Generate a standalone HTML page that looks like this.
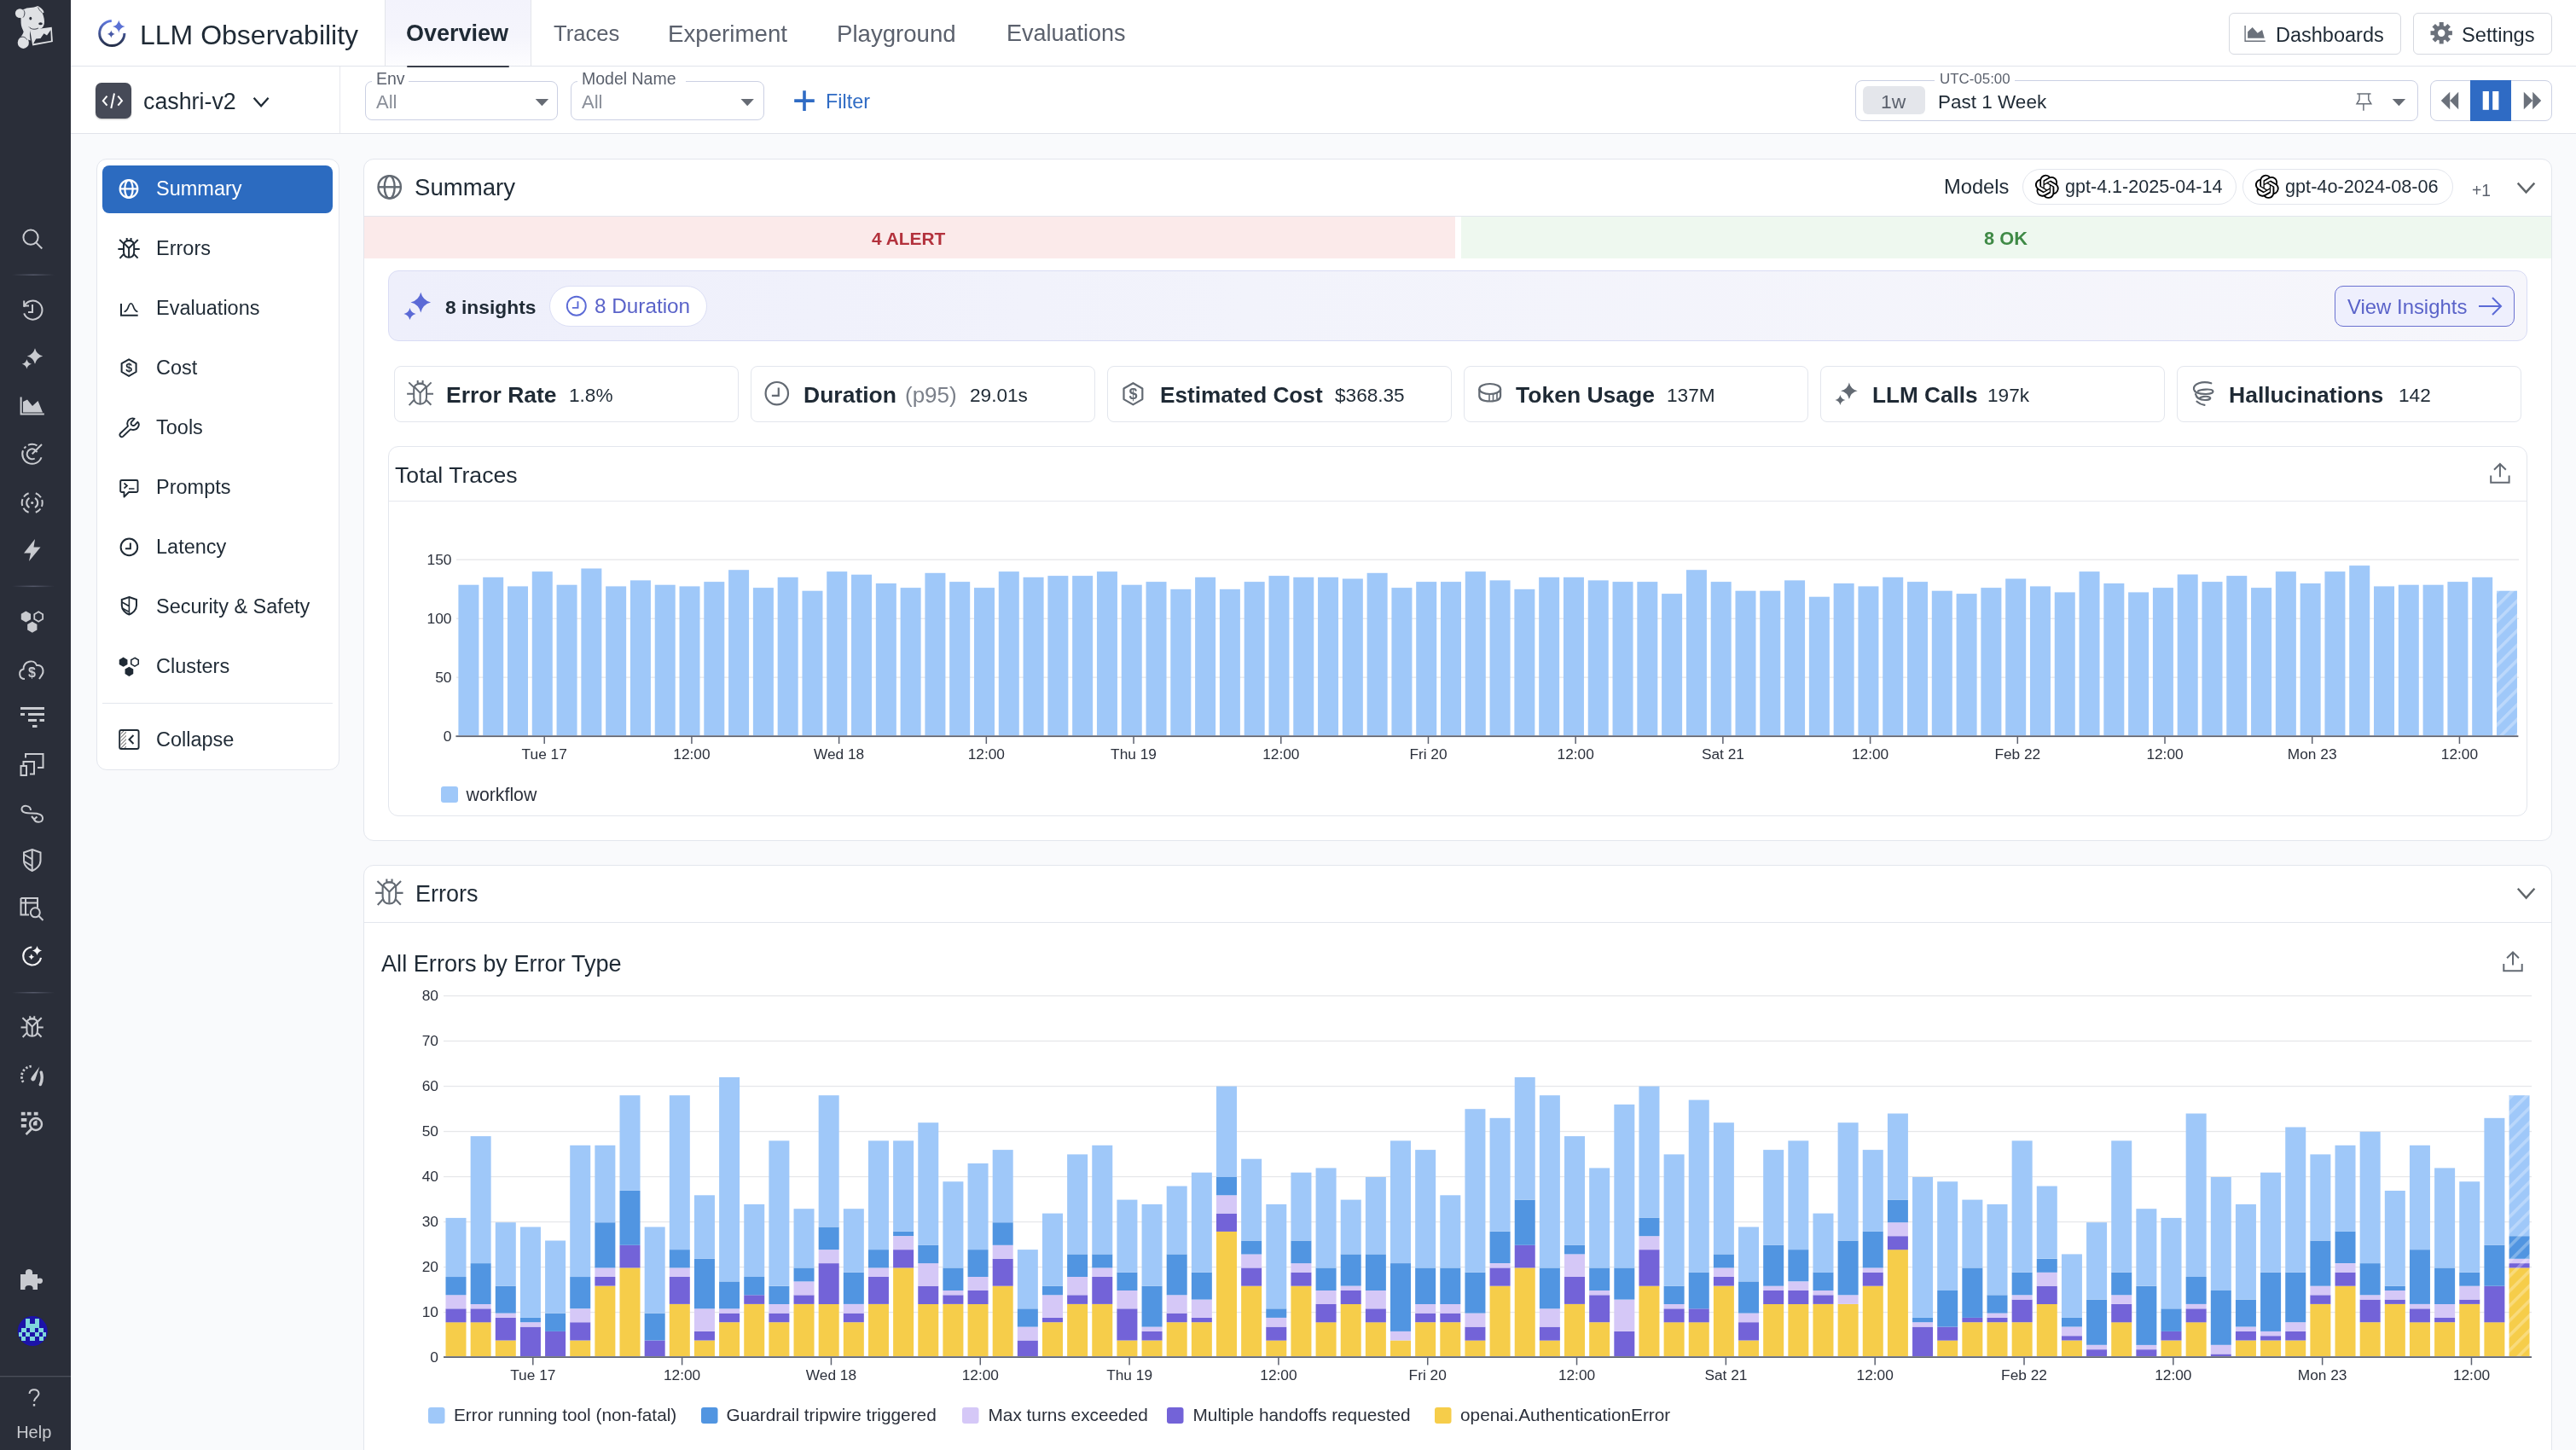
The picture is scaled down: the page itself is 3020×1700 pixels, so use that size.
<!DOCTYPE html><html><head><meta charset="utf-8"><style>
html,body{margin:0;padding:0;}
body{width:3020px;height:1700px;overflow:hidden;background:#f9fafc;font-family:"Liberation Sans", sans-serif;position:relative;}
.t{position:absolute;white-space:nowrap;line-height:1;will-change:transform;}
.b{position:absolute;box-sizing:border-box;}
svg{position:absolute;overflow:visible;will-change:transform;}
</style></head><body>
<div class="b" style="left:83px;top:0px;width:2937px;height:78px;background:#fff;border-bottom:1px solid #e1e4ea;"></div>
<div class="b" style="left:83px;top:78px;width:2937px;height:79px;background:#fff;border-bottom:1px solid #e1e4ea;"></div>
<div class="b" style="left:398px;top:78px;width:1px;height:78px;background:#e6e8ee;"></div>
<div class="b" style="left:451px;top:0px;width:172px;height:77px;background:linear-gradient(180deg,#f3f3fc 0%,#f5f5fc 55%,#fdfdff 100%);border-left:1px solid #e3e5ea;border-right:1px solid #e3e5ea;"></div>
<div class="b" style="left:477px;top:76.5px;width:120px;height:2.5px;background:#3a3e4b;border-radius:1px;"></div>
<div class="t" style="left:164.0px;top:25.4px;font-size:32px;font-weight:400;color:#1f2a35;">LLM Observability</div>
<div class="t" style="left:475.5px;top:26.2px;font-size:27px;font-weight:700;color:#1f2a35;">Overview</div>
<div class="t" style="left:648.5px;top:27.4px;font-size:25.6px;font-weight:400;color:#5b616d;">Traces</div>
<div class="t" style="left:782.5px;top:25.7px;font-size:27.7px;font-weight:400;color:#5b616d;">Experiment</div>
<div class="t" style="left:981.0px;top:25.7px;font-size:27.6px;font-weight:400;color:#5b616d;">Playground</div>
<div class="t" style="left:1180.0px;top:26.2px;font-size:27px;font-weight:400;color:#5b616d;">Evaluations</div>
<div class="b" style="left:2613px;top:15px;width:202px;height:49px;background:#fff;border:1px solid #d6d9e0;border-radius:6px;"></div>
<div class="b" style="left:2829px;top:15px;width:163px;height:49px;background:#fff;border:1px solid #d6d9e0;border-radius:6px;"></div>
<div class="t" style="left:2668.0px;top:30.1px;font-size:23.5px;font-weight:400;color:#1f2a35;">Dashboards</div>
<div class="t" style="left:2886.0px;top:29.9px;font-size:23.7px;font-weight:400;color:#1f2a35;">Settings</div>
<div class="b" style="left:112px;top:97px;width:42px;height:42px;background:#464a57;border-radius:7px;box-shadow:0 1px 2px rgba(0,0,0,.25);"></div>
<div class="t" style="left:167.5px;top:105.6px;font-size:26.8px;font-weight:400;color:#1f2a35;">cashri-v2</div>
<div class="b" style="left:428px;top:95px;width:226px;height:46px;border:1px solid #cbd0e3;border-radius:8px;background:#fff;"></div>
<div class="b" style="left:436px;top:85px;width:43px;height:15px;background:#fff;"></div>
<div class="t" style="left:441.0px;top:82.5px;font-size:19.5px;font-weight:400;color:#5b616d;">Env</div>
<div class="t" style="left:441.0px;top:109.2px;font-size:22px;font-weight:400;color:#8a8f99;">All</div>
<div class="b" style="left:669px;top:95px;width:227px;height:46px;border:1px solid #cbd0e3;border-radius:8px;background:#fff;"></div>
<div class="b" style="left:677px;top:85px;width:127px;height:15px;background:#fff;"></div>
<div class="t" style="left:682.0px;top:82.5px;font-size:19.5px;font-weight:400;color:#5b616d;">Model Name</div>
<div class="t" style="left:682.0px;top:109.2px;font-size:22px;font-weight:400;color:#8a8f99;">All</div>
<div class="t" style="left:968.0px;top:107.8px;font-size:23.4px;font-weight:400;color:#2f6bc4;">Filter</div>
<div class="b" style="left:2175px;top:94px;width:660px;height:48px;border:1px solid #cbd0e3;border-radius:8px;background:#fff;"></div>
<div class="b" style="left:2268px;top:85px;width:94px;height:15px;background:#fff;"></div>
<div class="t" style="left:2274.0px;top:84.7px;font-size:16.9px;font-weight:400;color:#5b616d;">UTC-05:00</div>
<div class="b" style="left:2184px;top:101px;width:73px;height:33px;background:#e4e6eb;border-radius:6px;"></div>
<div class="t" style="left:2204.5px;top:107.9px;font-size:22.9px;font-weight:400;color:#5b616d;">1w</div>
<div class="t" style="left:2271.5px;top:109.0px;font-size:22.5px;font-weight:400;color:#1f2a35;">Past 1 Week</div>
<div class="b" style="left:2849px;top:94px;width:143px;height:48px;border:1px solid #cbd0e3;border-radius:8px;background:#fff;"></div>
<div class="b" style="left:2896px;top:94px;width:48px;height:48px;background:#2f6bc4;"></div>
<div class="b" style="left:0px;top:0px;width:83px;height:1700px;background:#2a2e39;"></div>
<div class="b" style="left:113px;top:186px;width:285px;height:717px;background:#fff;border:1px solid #e3e6ed;border-radius:12px;"></div>
<div class="b" style="left:120px;top:194px;width:270px;height:56px;background:#2c6bc0;border-radius:8px;"></div>
<div class="t" style="left:182.5px;top:210.4px;font-size:23.5px;font-weight:400;color:#fff;">Summary</div>
<div class="t" style="left:182.5px;top:280.4px;font-size:23.5px;font-weight:400;color:#1f2a35;">Errors</div>
<div class="t" style="left:182.5px;top:350.4px;font-size:23.5px;font-weight:400;color:#1f2a35;">Evaluations</div>
<div class="t" style="left:182.5px;top:420.4px;font-size:23.5px;font-weight:400;color:#1f2a35;">Cost</div>
<div class="t" style="left:182.5px;top:490.4px;font-size:23.5px;font-weight:400;color:#1f2a35;">Tools</div>
<div class="t" style="left:182.5px;top:560.4px;font-size:23.5px;font-weight:400;color:#1f2a35;">Prompts</div>
<div class="t" style="left:182.5px;top:630.4px;font-size:23.5px;font-weight:400;color:#1f2a35;">Latency</div>
<div class="t" style="left:182.5px;top:700.4px;font-size:23.5px;font-weight:400;color:#1f2a35;">Security &amp; Safety</div>
<div class="t" style="left:182.5px;top:770.4px;font-size:23.5px;font-weight:400;color:#1f2a35;">Clusters</div>
<div class="b" style="left:120px;top:824px;width:270px;height:1px;background:#e3e6ed;"></div>
<div class="t" style="left:182.5px;top:856.4px;font-size:23.5px;font-weight:400;color:#1f2a35;">Collapse</div>
<div class="b" style="left:426px;top:186px;width:2566px;height:800px;background:#fff;border:1px solid #e3e6ed;border-radius:12px;"></div>
<div class="b" style="left:427px;top:253px;width:2564px;height:1px;background:#e3e6ed;"></div>
<div class="b" style="left:427px;top:254px;width:1279px;height:49px;background:#fbeaea;"></div>
<div class="b" style="left:1713px;top:254px;width:1278px;height:49px;background:#eef8ef;"></div>
<div class="t" style="left:486.0px;top:206.1px;font-size:27.6px;font-weight:400;color:#1f2a35;">Summary</div>
<div class="t" style="left:1022.0px;top:269.9px;font-size:20.9px;font-weight:700;color:#b3323d;">4 ALERT</div>
<div class="t" style="left:2325.5px;top:269.1px;font-size:21.8px;font-weight:700;color:#3f8a46;">8 OK</div>
<div class="t" style="left:2279.0px;top:207.6px;font-size:23.7px;font-weight:400;color:#1f2a35;">Models</div>
<div class="b" style="left:2371px;top:198px;width:251px;height:42px;border:1px solid #e3e6ed;border-radius:21px;background:#fff;"></div>
<div class="t" style="left:2421.0px;top:208.2px;font-size:21.56px;font-weight:400;color:#1f2a35;">gpt-4.1-2025-04-14</div>
<div class="b" style="left:2629px;top:198px;width:247px;height:42px;border:1px solid #e3e6ed;border-radius:21px;background:#fff;"></div>
<div class="t" style="left:2679.0px;top:208.1px;font-size:21.7px;font-weight:400;color:#1f2a35;">gpt-4o-2024-08-06</div>
<div class="t" style="left:2898.0px;top:214.2px;font-size:19.3px;font-weight:400;color:#5b616d;">+1</div>
<div class="b" style="left:455px;top:317px;width:2508px;height:83px;background:linear-gradient(90deg,#eeeffb 0%,#f2f3fb 40%,#f6f6fb 100%);border:1px solid #d9dcf5;border-radius:12px;"></div>
<div class="t" style="left:521.5px;top:348.6px;font-size:22.8px;font-weight:700;color:#1f2a35;">8 insights</div>
<div class="b" style="left:644px;top:335px;width:185px;height:48px;background:#fff;border:1px solid #dcdff5;border-radius:24px;"></div>
<div class="t" style="left:696.5px;top:347.3px;font-size:24.3px;font-weight:400;color:#5a63c9;">8 Duration</div>
<div class="b" style="left:2737px;top:335px;width:211px;height:48px;background:#eeeffd;border:1.5px solid #6a71d0;border-radius:10px;"></div>
<div class="t" style="left:2751.5px;top:347.7px;font-size:23.9px;font-weight:400;color:#5a63c9;">View Insights</div>
<div class="b" style="left:462px;top:429px;width:404px;height:66px;background:#fff;border:1px solid #e3e6ed;border-radius:8px;"></div>
<div class="t" style="left:523.0px;top:449.6px;font-size:26.5px;font-weight:700;color:#1f2a35;">Error Rate</div>
<div class="t" style="left:666.5px;top:452.9px;font-size:22.6px;font-weight:400;color:#1f2a35;">1.8%</div>
<div class="b" style="left:880px;top:429px;width:404px;height:66px;background:#fff;border:1px solid #e3e6ed;border-radius:8px;"></div>
<div class="t" style="left:941.5px;top:449.6px;font-size:26.5px;font-weight:700;color:#1f2a35;">Duration</div>
<div class="t" style="left:1061.0px;top:450.0px;font-size:26px;font-weight:400;color:#7b808a;">(p95)</div>
<div class="t" style="left:1137.0px;top:452.9px;font-size:22.6px;font-weight:400;color:#1f2a35;">29.01s</div>
<div class="b" style="left:1298px;top:429px;width:404px;height:66px;background:#fff;border:1px solid #e3e6ed;border-radius:8px;"></div>
<div class="t" style="left:1359.5px;top:449.8px;font-size:26.2px;font-weight:700;color:#1f2a35;">Estimated Cost</div>
<div class="t" style="left:1564.5px;top:452.9px;font-size:22.6px;font-weight:400;color:#1f2a35;">$368.35</div>
<div class="b" style="left:1716px;top:429px;width:404px;height:66px;background:#fff;border:1px solid #e3e6ed;border-radius:8px;"></div>
<div class="t" style="left:1776.5px;top:449.6px;font-size:26.5px;font-weight:700;color:#1f2a35;">Token Usage</div>
<div class="t" style="left:1954.0px;top:452.9px;font-size:22.6px;font-weight:400;color:#1f2a35;">137M</div>
<div class="b" style="left:2134px;top:429px;width:404px;height:66px;background:#fff;border:1px solid #e3e6ed;border-radius:8px;"></div>
<div class="t" style="left:2195.0px;top:449.8px;font-size:26.2px;font-weight:700;color:#1f2a35;">LLM Calls</div>
<div class="t" style="left:2329.5px;top:452.9px;font-size:22.6px;font-weight:400;color:#1f2a35;">197k</div>
<div class="b" style="left:2552px;top:429px;width:404px;height:66px;background:#fff;border:1px solid #e3e6ed;border-radius:8px;"></div>
<div class="t" style="left:2613.0px;top:449.6px;font-size:26.5px;font-weight:700;color:#1f2a35;">Hallucinations</div>
<div class="t" style="left:2811.5px;top:452.9px;font-size:22.6px;font-weight:400;color:#1f2a35;">142</div>
<div class="b" style="left:455px;top:523px;width:2508px;height:434px;background:#fff;border:1px solid #e3e6ed;border-radius:12px;"></div>
<div class="b" style="left:456px;top:587px;width:2506px;height:1px;background:#e6e8ee;"></div>
<div class="t" style="left:462.5px;top:543.9px;font-size:26.65px;font-weight:400;color:#1f2a35;">Total Traces</div>
<div class="b" style="left:426px;top:1014px;width:2566px;height:746px;background:#fff;border:1px solid #e3e6ed;border-radius:12px;"></div>
<div class="b" style="left:427px;top:1081px;width:2564px;height:1px;background:#e3e6ed;"></div>
<div class="t" style="left:487.0px;top:1035.1px;font-size:27px;font-weight:400;color:#1f2a35;">Errors</div>
<div class="t" style="left:447.0px;top:1116.4px;font-size:27.16px;font-weight:400;color:#1f2a35;">All Errors by Error Type</div>
<svg width="3020" height="1700" style="left:0;top:0;font-family:"Liberation Sans", sans-serif"><defs><pattern id="hatch" patternUnits="userSpaceOnUse" width="12.3" height="12.3" patternTransform="rotate(45)"><rect width="12.3" height="12.3" fill="#9fc8f9"/><rect width="3.6" height="12.3" fill="#bcd8fb"/></pattern><pattern id="h0" patternUnits="userSpaceOnUse" width="12.3" height="12.3" patternTransform="rotate(45)"><rect width="12.3" height="12.3" fill="#f6cd4a"/><rect width="3.6" height="12.3" fill="#ffffff" fill-opacity="0.28"/></pattern><pattern id="h1" patternUnits="userSpaceOnUse" width="12.3" height="12.3" patternTransform="rotate(45)"><rect width="12.3" height="12.3" fill="#7363d8"/><rect width="3.6" height="12.3" fill="#ffffff" fill-opacity="0.28"/></pattern><pattern id="h2" patternUnits="userSpaceOnUse" width="12.3" height="12.3" patternTransform="rotate(45)"><rect width="12.3" height="12.3" fill="#d5c8f7"/><rect width="3.6" height="12.3" fill="#ffffff" fill-opacity="0.28"/></pattern><pattern id="h3" patternUnits="userSpaceOnUse" width="12.3" height="12.3" patternTransform="rotate(45)"><rect width="12.3" height="12.3" fill="#5195e1"/><rect width="3.6" height="12.3" fill="#ffffff" fill-opacity="0.28"/></pattern><pattern id="h4" patternUnits="userSpaceOnUse" width="12.3" height="12.3" patternTransform="rotate(45)"><rect width="12.3" height="12.3" fill="#9fc8f9"/><rect width="3.6" height="12.3" fill="#ffffff" fill-opacity="0.28"/></pattern></defs><text x="529.5" y="869.0" text-anchor="end" font-size="17.4" fill="#2b303b">0</text><rect x="535" y="793.5" width="2418" height="1.3" fill="#e6e7ea"/><text x="529.5" y="800.0" text-anchor="end" font-size="17.4" fill="#2b303b">50</text><rect x="535" y="724.6" width="2418" height="1.3" fill="#e6e7ea"/><text x="529.5" y="731.1" text-anchor="end" font-size="17.4" fill="#2b303b">100</text><rect x="535" y="655.5" width="2418" height="1.3" fill="#e6e7ea"/><text x="529.5" y="662.0" text-anchor="end" font-size="17.4" fill="#2b303b">150</text><rect x="537.40" y="685.7" width="24" height="176.5" fill="#9fc8f9"/><rect x="566.19" y="676.8" width="24" height="185.4" fill="#9fc8f9"/><rect x="594.98" y="687.4" width="24" height="174.8" fill="#9fc8f9"/><rect x="623.77" y="670.1" width="24" height="192.1" fill="#9fc8f9"/><rect x="652.56" y="685.7" width="24" height="176.5" fill="#9fc8f9"/><rect x="681.35" y="666.5" width="24" height="195.7" fill="#9fc8f9"/><rect x="710.14" y="687.4" width="24" height="174.8" fill="#9fc8f9"/><rect x="738.93" y="680.4" width="24" height="181.8" fill="#9fc8f9"/><rect x="767.72" y="685.7" width="24" height="176.5" fill="#9fc8f9"/><rect x="796.51" y="687.4" width="24" height="174.8" fill="#9fc8f9"/><rect x="825.30" y="682.1" width="24" height="180.1" fill="#9fc8f9"/><rect x="854.09" y="668.2" width="24" height="194.0" fill="#9fc8f9"/><rect x="882.88" y="689.1" width="24" height="173.1" fill="#9fc8f9"/><rect x="911.67" y="676.8" width="24" height="185.4" fill="#9fc8f9"/><rect x="940.46" y="692.7" width="24" height="169.5" fill="#9fc8f9"/><rect x="969.25" y="670.1" width="24" height="192.1" fill="#9fc8f9"/><rect x="998.04" y="673.7" width="24" height="188.5" fill="#9fc8f9"/><rect x="1026.83" y="684.0" width="24" height="178.2" fill="#9fc8f9"/><rect x="1055.62" y="689.1" width="24" height="173.1" fill="#9fc8f9"/><rect x="1084.41" y="671.8" width="24" height="190.4" fill="#9fc8f9"/><rect x="1113.20" y="682.1" width="24" height="180.1" fill="#9fc8f9"/><rect x="1141.99" y="689.1" width="24" height="173.1" fill="#9fc8f9"/><rect x="1170.78" y="670.1" width="24" height="192.1" fill="#9fc8f9"/><rect x="1199.57" y="676.8" width="24" height="185.4" fill="#9fc8f9"/><rect x="1228.36" y="675.1" width="24" height="187.1" fill="#9fc8f9"/><rect x="1257.15" y="675.1" width="24" height="187.1" fill="#9fc8f9"/><rect x="1285.94" y="670.1" width="24" height="192.1" fill="#9fc8f9"/><rect x="1314.73" y="685.7" width="24" height="176.5" fill="#9fc8f9"/><rect x="1343.52" y="682.1" width="24" height="180.1" fill="#9fc8f9"/><rect x="1372.31" y="690.8" width="24" height="171.4" fill="#9fc8f9"/><rect x="1401.10" y="676.8" width="24" height="185.4" fill="#9fc8f9"/><rect x="1429.89" y="690.8" width="24" height="171.4" fill="#9fc8f9"/><rect x="1458.68" y="682.1" width="24" height="180.1" fill="#9fc8f9"/><rect x="1487.47" y="675.1" width="24" height="187.1" fill="#9fc8f9"/><rect x="1516.26" y="676.8" width="24" height="185.4" fill="#9fc8f9"/><rect x="1545.05" y="676.8" width="24" height="185.4" fill="#9fc8f9"/><rect x="1573.84" y="678.5" width="24" height="183.7" fill="#9fc8f9"/><rect x="1602.63" y="671.8" width="24" height="190.4" fill="#9fc8f9"/><rect x="1631.42" y="689.1" width="24" height="173.1" fill="#9fc8f9"/><rect x="1660.21" y="682.1" width="24" height="180.1" fill="#9fc8f9"/><rect x="1689.00" y="682.1" width="24" height="180.1" fill="#9fc8f9"/><rect x="1717.79" y="670.1" width="24" height="192.1" fill="#9fc8f9"/><rect x="1746.58" y="680.4" width="24" height="181.8" fill="#9fc8f9"/><rect x="1775.37" y="690.8" width="24" height="171.4" fill="#9fc8f9"/><rect x="1804.16" y="676.8" width="24" height="185.4" fill="#9fc8f9"/><rect x="1832.95" y="676.8" width="24" height="185.4" fill="#9fc8f9"/><rect x="1861.74" y="680.4" width="24" height="181.8" fill="#9fc8f9"/><rect x="1890.53" y="682.1" width="24" height="180.1" fill="#9fc8f9"/><rect x="1919.32" y="682.1" width="24" height="180.1" fill="#9fc8f9"/><rect x="1948.11" y="696.1" width="24" height="166.1" fill="#9fc8f9"/><rect x="1976.90" y="668.2" width="24" height="194.0" fill="#9fc8f9"/><rect x="2005.69" y="682.1" width="24" height="180.1" fill="#9fc8f9"/><rect x="2034.48" y="692.7" width="24" height="169.5" fill="#9fc8f9"/><rect x="2063.27" y="692.7" width="24" height="169.5" fill="#9fc8f9"/><rect x="2092.06" y="680.4" width="24" height="181.8" fill="#9fc8f9"/><rect x="2120.85" y="699.7" width="24" height="162.5" fill="#9fc8f9"/><rect x="2149.64" y="684.0" width="24" height="178.2" fill="#9fc8f9"/><rect x="2178.43" y="687.4" width="24" height="174.8" fill="#9fc8f9"/><rect x="2207.22" y="676.8" width="24" height="185.4" fill="#9fc8f9"/><rect x="2236.01" y="682.1" width="24" height="180.1" fill="#9fc8f9"/><rect x="2264.80" y="692.7" width="24" height="169.5" fill="#9fc8f9"/><rect x="2293.59" y="696.1" width="24" height="166.1" fill="#9fc8f9"/><rect x="2322.38" y="689.1" width="24" height="173.1" fill="#9fc8f9"/><rect x="2351.17" y="678.5" width="24" height="183.7" fill="#9fc8f9"/><rect x="2379.96" y="687.4" width="24" height="174.8" fill="#9fc8f9"/><rect x="2408.75" y="694.4" width="24" height="167.8" fill="#9fc8f9"/><rect x="2437.54" y="670.1" width="24" height="192.1" fill="#9fc8f9"/><rect x="2466.33" y="684.0" width="24" height="178.2" fill="#9fc8f9"/><rect x="2495.12" y="694.4" width="24" height="167.8" fill="#9fc8f9"/><rect x="2523.91" y="689.1" width="24" height="173.1" fill="#9fc8f9"/><rect x="2552.70" y="673.5" width="24" height="188.7" fill="#9fc8f9"/><rect x="2581.49" y="682.1" width="24" height="180.1" fill="#9fc8f9"/><rect x="2610.28" y="675.1" width="24" height="187.1" fill="#9fc8f9"/><rect x="2639.07" y="689.1" width="24" height="173.1" fill="#9fc8f9"/><rect x="2667.86" y="670.1" width="24" height="192.1" fill="#9fc8f9"/><rect x="2696.65" y="684.0" width="24" height="178.2" fill="#9fc8f9"/><rect x="2725.44" y="670.1" width="24" height="192.1" fill="#9fc8f9"/><rect x="2754.23" y="663.1" width="24" height="199.1" fill="#9fc8f9"/><rect x="2783.02" y="687.4" width="24" height="174.8" fill="#9fc8f9"/><rect x="2811.81" y="685.7" width="24" height="176.5" fill="#9fc8f9"/><rect x="2840.60" y="685.7" width="24" height="176.5" fill="#9fc8f9"/><rect x="2869.39" y="682.1" width="24" height="180.1" fill="#9fc8f9"/><rect x="2898.18" y="676.8" width="24" height="185.4" fill="#9fc8f9"/><rect x="2926.97" y="692.7" width="24" height="169.5" fill="url(#hatch)"/><rect x="534.4" y="862.3" width="2418" height="1.8" fill="#5d6270"/><rect x="637.45" y="863" width="1.5" height="9" fill="#5d6270"/><text x="638.2" y="890.3" text-anchor="middle" font-size="17.3" fill="#2b303b">Tue 17</text><rect x="810.16" y="863" width="1.5" height="9" fill="#5d6270"/><text x="810.9" y="890.3" text-anchor="middle" font-size="17.3" fill="#2b303b">12:00</text><rect x="982.87" y="863" width="1.5" height="9" fill="#5d6270"/><text x="983.6" y="890.3" text-anchor="middle" font-size="17.3" fill="#2b303b">Wed 18</text><rect x="1155.58" y="863" width="1.5" height="9" fill="#5d6270"/><text x="1156.3" y="890.3" text-anchor="middle" font-size="17.3" fill="#2b303b">12:00</text><rect x="1328.29" y="863" width="1.5" height="9" fill="#5d6270"/><text x="1329.0" y="890.3" text-anchor="middle" font-size="17.3" fill="#2b303b">Thu 19</text><rect x="1501.00" y="863" width="1.5" height="9" fill="#5d6270"/><text x="1501.8" y="890.3" text-anchor="middle" font-size="17.3" fill="#2b303b">12:00</text><rect x="1673.71" y="863" width="1.5" height="9" fill="#5d6270"/><text x="1674.5" y="890.3" text-anchor="middle" font-size="17.3" fill="#2b303b">Fri 20</text><rect x="1846.42" y="863" width="1.5" height="9" fill="#5d6270"/><text x="1847.2" y="890.3" text-anchor="middle" font-size="17.3" fill="#2b303b">12:00</text><rect x="2019.13" y="863" width="1.5" height="9" fill="#5d6270"/><text x="2019.9" y="890.3" text-anchor="middle" font-size="17.3" fill="#2b303b">Sat 21</text><rect x="2191.84" y="863" width="1.5" height="9" fill="#5d6270"/><text x="2192.6" y="890.3" text-anchor="middle" font-size="17.3" fill="#2b303b">12:00</text><rect x="2364.55" y="863" width="1.5" height="9" fill="#5d6270"/><text x="2365.3" y="890.3" text-anchor="middle" font-size="17.3" fill="#2b303b">Feb 22</text><rect x="2537.26" y="863" width="1.5" height="9" fill="#5d6270"/><text x="2538.0" y="890.3" text-anchor="middle" font-size="17.3" fill="#2b303b">12:00</text><rect x="2709.97" y="863" width="1.5" height="9" fill="#5d6270"/><text x="2710.7" y="890.3" text-anchor="middle" font-size="17.3" fill="#2b303b">Mon 23</text><rect x="2882.68" y="863" width="1.5" height="9" fill="#5d6270"/><text x="2883.4" y="890.3" text-anchor="middle" font-size="17.3" fill="#2b303b">12:00</text><rect x="517" y="922" width="20" height="19" rx="3" fill="#9fc8f9"/><text x="546.5" y="939" font-size="21.3" fill="#2b303b">workflow</text><text x="514" y="1597.4" text-anchor="end" font-size="17.4" fill="#2b303b">0</text><rect x="520" y="1537.9" width="2448" height="1.3" fill="#e6e7ea"/><text x="514" y="1544.4" text-anchor="end" font-size="17.4" fill="#2b303b">10</text><rect x="520" y="1484.9" width="2448" height="1.3" fill="#e6e7ea"/><text x="514" y="1491.4" text-anchor="end" font-size="17.4" fill="#2b303b">20</text><rect x="520" y="1431.9" width="2448" height="1.3" fill="#e6e7ea"/><text x="514" y="1438.4" text-anchor="end" font-size="17.4" fill="#2b303b">30</text><rect x="520" y="1378.9" width="2448" height="1.3" fill="#e6e7ea"/><text x="514" y="1385.4" text-anchor="end" font-size="17.4" fill="#2b303b">40</text><rect x="520" y="1325.9" width="2448" height="1.3" fill="#e6e7ea"/><text x="514" y="1332.4" text-anchor="end" font-size="17.4" fill="#2b303b">50</text><rect x="520" y="1272.9" width="2448" height="1.3" fill="#e6e7ea"/><text x="514" y="1279.4" text-anchor="end" font-size="17.4" fill="#2b303b">60</text><rect x="520" y="1219.9" width="2448" height="1.3" fill="#e6e7ea"/><text x="514" y="1226.4" text-anchor="end" font-size="17.4" fill="#2b303b">70</text><rect x="520" y="1166.9" width="2448" height="1.3" fill="#e6e7ea"/><text x="514" y="1173.4" text-anchor="end" font-size="17.4" fill="#2b303b">80</text><rect x="522.50" y="1550.2" width="24" height="39.8" fill="#f6cd4a"/><rect x="522.50" y="1534.3" width="24" height="16.0" fill="#7363d8"/><rect x="522.50" y="1518.3" width="24" height="16.0" fill="#d5c8f7"/><rect x="522.50" y="1497.0" width="24" height="21.3" fill="#5195e1"/><rect x="522.50" y="1427.9" width="24" height="69.2" fill="#9fc8f9"/><rect x="551.64" y="1550.2" width="24" height="39.8" fill="#f6cd4a"/><rect x="551.64" y="1534.3" width="24" height="16.0" fill="#7363d8"/><rect x="551.64" y="1529.0" width="24" height="5.3" fill="#d5c8f7"/><rect x="551.64" y="1481.1" width="24" height="47.9" fill="#5195e1"/><rect x="551.64" y="1332.1" width="24" height="149.0" fill="#9fc8f9"/><rect x="580.79" y="1571.5" width="24" height="18.5" fill="#f6cd4a"/><rect x="580.79" y="1544.9" width="24" height="26.6" fill="#7363d8"/><rect x="580.79" y="1539.6" width="24" height="5.3" fill="#d5c8f7"/><rect x="580.79" y="1507.7" width="24" height="31.9" fill="#5195e1"/><rect x="580.79" y="1433.2" width="24" height="74.5" fill="#9fc8f9"/><rect x="609.93" y="1555.6" width="24" height="34.4" fill="#7363d8"/><rect x="609.93" y="1550.2" width="24" height="5.3" fill="#d5c8f7"/><rect x="609.93" y="1544.9" width="24" height="5.3" fill="#5195e1"/><rect x="609.93" y="1438.5" width="24" height="106.4" fill="#9fc8f9"/><rect x="639.08" y="1560.9" width="24" height="29.1" fill="#7363d8"/><rect x="639.08" y="1539.6" width="24" height="21.3" fill="#5195e1"/><rect x="639.08" y="1454.5" width="24" height="85.1" fill="#9fc8f9"/><rect x="668.23" y="1571.5" width="24" height="18.5" fill="#f6cd4a"/><rect x="668.23" y="1550.2" width="24" height="21.3" fill="#7363d8"/><rect x="668.23" y="1534.3" width="24" height="16.0" fill="#d5c8f7"/><rect x="668.23" y="1497.0" width="24" height="37.2" fill="#5195e1"/><rect x="668.23" y="1342.8" width="24" height="154.3" fill="#9fc8f9"/><rect x="697.37" y="1507.7" width="24" height="82.3" fill="#f6cd4a"/><rect x="697.37" y="1497.0" width="24" height="10.6" fill="#7363d8"/><rect x="697.37" y="1486.4" width="24" height="10.6" fill="#d5c8f7"/><rect x="697.37" y="1433.2" width="24" height="53.2" fill="#5195e1"/><rect x="697.37" y="1342.8" width="24" height="90.4" fill="#9fc8f9"/><rect x="726.51" y="1486.4" width="24" height="103.6" fill="#f6cd4a"/><rect x="726.51" y="1459.8" width="24" height="26.6" fill="#7363d8"/><rect x="726.51" y="1396.0" width="24" height="63.8" fill="#5195e1"/><rect x="726.51" y="1284.2" width="24" height="111.7" fill="#9fc8f9"/><rect x="755.66" y="1571.5" width="24" height="18.5" fill="#7363d8"/><rect x="755.66" y="1539.6" width="24" height="31.9" fill="#5195e1"/><rect x="755.66" y="1438.5" width="24" height="101.1" fill="#9fc8f9"/><rect x="784.81" y="1529.0" width="24" height="61.0" fill="#f6cd4a"/><rect x="784.81" y="1497.0" width="24" height="31.9" fill="#7363d8"/><rect x="784.81" y="1486.4" width="24" height="10.6" fill="#d5c8f7"/><rect x="784.81" y="1465.1" width="24" height="21.3" fill="#5195e1"/><rect x="784.81" y="1284.2" width="24" height="180.9" fill="#9fc8f9"/><rect x="813.95" y="1571.5" width="24" height="18.5" fill="#f6cd4a"/><rect x="813.95" y="1560.9" width="24" height="10.6" fill="#7363d8"/><rect x="813.95" y="1534.3" width="24" height="26.6" fill="#d5c8f7"/><rect x="813.95" y="1475.8" width="24" height="58.5" fill="#5195e1"/><rect x="813.95" y="1401.3" width="24" height="74.5" fill="#9fc8f9"/><rect x="843.10" y="1550.2" width="24" height="39.8" fill="#f6cd4a"/><rect x="843.10" y="1539.6" width="24" height="10.6" fill="#7363d8"/><rect x="843.10" y="1534.3" width="24" height="5.3" fill="#d5c8f7"/><rect x="843.10" y="1502.4" width="24" height="31.9" fill="#5195e1"/><rect x="843.10" y="1263.0" width="24" height="239.4" fill="#9fc8f9"/><rect x="872.24" y="1529.0" width="24" height="61.0" fill="#f6cd4a"/><rect x="872.24" y="1518.3" width="24" height="10.6" fill="#7363d8"/><rect x="872.24" y="1497.0" width="24" height="21.3" fill="#5195e1"/><rect x="872.24" y="1411.9" width="24" height="85.1" fill="#9fc8f9"/><rect x="901.38" y="1550.2" width="24" height="39.8" fill="#f6cd4a"/><rect x="901.38" y="1539.6" width="24" height="10.6" fill="#7363d8"/><rect x="901.38" y="1529.0" width="24" height="10.6" fill="#d5c8f7"/><rect x="901.38" y="1507.7" width="24" height="21.3" fill="#5195e1"/><rect x="901.38" y="1337.4" width="24" height="170.2" fill="#9fc8f9"/><rect x="930.53" y="1529.0" width="24" height="61.0" fill="#f6cd4a"/><rect x="930.53" y="1518.3" width="24" height="10.6" fill="#7363d8"/><rect x="930.53" y="1502.4" width="24" height="16.0" fill="#d5c8f7"/><rect x="930.53" y="1486.4" width="24" height="16.0" fill="#5195e1"/><rect x="930.53" y="1417.2" width="24" height="69.2" fill="#9fc8f9"/><rect x="959.67" y="1529.0" width="24" height="61.0" fill="#f6cd4a"/><rect x="959.67" y="1481.1" width="24" height="47.9" fill="#7363d8"/><rect x="959.67" y="1465.1" width="24" height="16.0" fill="#d5c8f7"/><rect x="959.67" y="1438.5" width="24" height="26.6" fill="#5195e1"/><rect x="959.67" y="1284.2" width="24" height="154.3" fill="#9fc8f9"/><rect x="988.82" y="1550.2" width="24" height="39.8" fill="#f6cd4a"/><rect x="988.82" y="1539.6" width="24" height="10.6" fill="#7363d8"/><rect x="988.82" y="1529.0" width="24" height="10.6" fill="#d5c8f7"/><rect x="988.82" y="1491.7" width="24" height="37.2" fill="#5195e1"/><rect x="988.82" y="1417.2" width="24" height="74.5" fill="#9fc8f9"/><rect x="1017.96" y="1529.0" width="24" height="61.0" fill="#f6cd4a"/><rect x="1017.96" y="1497.0" width="24" height="31.9" fill="#7363d8"/><rect x="1017.96" y="1486.4" width="24" height="10.6" fill="#d5c8f7"/><rect x="1017.96" y="1465.1" width="24" height="21.3" fill="#5195e1"/><rect x="1017.96" y="1337.4" width="24" height="127.7" fill="#9fc8f9"/><rect x="1047.11" y="1486.4" width="24" height="103.6" fill="#f6cd4a"/><rect x="1047.11" y="1465.1" width="24" height="21.3" fill="#7363d8"/><rect x="1047.11" y="1449.2" width="24" height="16.0" fill="#d5c8f7"/><rect x="1047.11" y="1443.8" width="24" height="5.3" fill="#5195e1"/><rect x="1047.11" y="1337.4" width="24" height="106.4" fill="#9fc8f9"/><rect x="1076.26" y="1529.0" width="24" height="61.0" fill="#f6cd4a"/><rect x="1076.26" y="1507.7" width="24" height="21.3" fill="#7363d8"/><rect x="1076.26" y="1481.1" width="24" height="26.6" fill="#d5c8f7"/><rect x="1076.26" y="1459.8" width="24" height="21.3" fill="#5195e1"/><rect x="1076.26" y="1316.2" width="24" height="143.6" fill="#9fc8f9"/><rect x="1105.40" y="1529.0" width="24" height="61.0" fill="#f6cd4a"/><rect x="1105.40" y="1518.3" width="24" height="10.6" fill="#7363d8"/><rect x="1105.40" y="1513.0" width="24" height="5.3" fill="#d5c8f7"/><rect x="1105.40" y="1486.4" width="24" height="26.6" fill="#5195e1"/><rect x="1105.40" y="1385.3" width="24" height="101.1" fill="#9fc8f9"/><rect x="1134.55" y="1529.0" width="24" height="61.0" fill="#f6cd4a"/><rect x="1134.55" y="1513.0" width="24" height="16.0" fill="#7363d8"/><rect x="1134.55" y="1497.0" width="24" height="16.0" fill="#d5c8f7"/><rect x="1134.55" y="1465.1" width="24" height="31.9" fill="#5195e1"/><rect x="1134.55" y="1364.0" width="24" height="101.1" fill="#9fc8f9"/><rect x="1163.69" y="1507.7" width="24" height="82.3" fill="#f6cd4a"/><rect x="1163.69" y="1475.8" width="24" height="31.9" fill="#7363d8"/><rect x="1163.69" y="1459.8" width="24" height="16.0" fill="#d5c8f7"/><rect x="1163.69" y="1433.2" width="24" height="26.6" fill="#5195e1"/><rect x="1163.69" y="1348.1" width="24" height="85.1" fill="#9fc8f9"/><rect x="1192.84" y="1571.5" width="24" height="18.5" fill="#7363d8"/><rect x="1192.84" y="1555.6" width="24" height="16.0" fill="#d5c8f7"/><rect x="1192.84" y="1534.3" width="24" height="21.3" fill="#5195e1"/><rect x="1192.84" y="1465.1" width="24" height="69.2" fill="#9fc8f9"/><rect x="1221.98" y="1550.2" width="24" height="39.8" fill="#f6cd4a"/><rect x="1221.98" y="1544.9" width="24" height="5.3" fill="#7363d8"/><rect x="1221.98" y="1518.3" width="24" height="26.6" fill="#d5c8f7"/><rect x="1221.98" y="1507.7" width="24" height="10.6" fill="#5195e1"/><rect x="1221.98" y="1422.6" width="24" height="85.1" fill="#9fc8f9"/><rect x="1251.12" y="1529.0" width="24" height="61.0" fill="#f6cd4a"/><rect x="1251.12" y="1518.3" width="24" height="10.6" fill="#7363d8"/><rect x="1251.12" y="1497.0" width="24" height="21.3" fill="#d5c8f7"/><rect x="1251.12" y="1470.4" width="24" height="26.6" fill="#5195e1"/><rect x="1251.12" y="1353.4" width="24" height="117.0" fill="#9fc8f9"/><rect x="1280.27" y="1529.0" width="24" height="61.0" fill="#f6cd4a"/><rect x="1280.27" y="1497.0" width="24" height="31.9" fill="#7363d8"/><rect x="1280.27" y="1486.4" width="24" height="10.6" fill="#d5c8f7"/><rect x="1280.27" y="1470.4" width="24" height="16.0" fill="#5195e1"/><rect x="1280.27" y="1342.8" width="24" height="127.7" fill="#9fc8f9"/><rect x="1309.41" y="1571.5" width="24" height="18.5" fill="#f6cd4a"/><rect x="1309.41" y="1534.3" width="24" height="37.2" fill="#7363d8"/><rect x="1309.41" y="1513.0" width="24" height="21.3" fill="#d5c8f7"/><rect x="1309.41" y="1491.7" width="24" height="21.3" fill="#5195e1"/><rect x="1309.41" y="1406.6" width="24" height="85.1" fill="#9fc8f9"/><rect x="1338.56" y="1571.5" width="24" height="18.5" fill="#f6cd4a"/><rect x="1338.56" y="1560.9" width="24" height="10.6" fill="#7363d8"/><rect x="1338.56" y="1555.6" width="24" height="5.3" fill="#d5c8f7"/><rect x="1338.56" y="1507.7" width="24" height="47.9" fill="#5195e1"/><rect x="1338.56" y="1411.9" width="24" height="95.8" fill="#9fc8f9"/><rect x="1367.70" y="1550.2" width="24" height="39.8" fill="#f6cd4a"/><rect x="1367.70" y="1539.6" width="24" height="10.6" fill="#7363d8"/><rect x="1367.70" y="1518.3" width="24" height="21.3" fill="#d5c8f7"/><rect x="1367.70" y="1470.4" width="24" height="47.9" fill="#5195e1"/><rect x="1367.70" y="1390.6" width="24" height="79.8" fill="#9fc8f9"/><rect x="1396.85" y="1550.2" width="24" height="39.8" fill="#f6cd4a"/><rect x="1396.85" y="1544.9" width="24" height="5.3" fill="#7363d8"/><rect x="1396.85" y="1523.6" width="24" height="21.3" fill="#d5c8f7"/><rect x="1396.85" y="1491.7" width="24" height="31.9" fill="#5195e1"/><rect x="1396.85" y="1374.7" width="24" height="117.0" fill="#9fc8f9"/><rect x="1425.99" y="1443.8" width="24" height="146.2" fill="#f6cd4a"/><rect x="1425.99" y="1422.6" width="24" height="21.3" fill="#7363d8"/><rect x="1425.99" y="1401.3" width="24" height="21.3" fill="#d5c8f7"/><rect x="1425.99" y="1380.0" width="24" height="21.3" fill="#5195e1"/><rect x="1425.99" y="1273.6" width="24" height="106.4" fill="#9fc8f9"/><rect x="1455.14" y="1507.7" width="24" height="82.3" fill="#f6cd4a"/><rect x="1455.14" y="1486.4" width="24" height="21.3" fill="#7363d8"/><rect x="1455.14" y="1470.4" width="24" height="16.0" fill="#d5c8f7"/><rect x="1455.14" y="1454.5" width="24" height="16.0" fill="#5195e1"/><rect x="1455.14" y="1358.7" width="24" height="95.8" fill="#9fc8f9"/><rect x="1484.28" y="1571.5" width="24" height="18.5" fill="#f6cd4a"/><rect x="1484.28" y="1555.6" width="24" height="16.0" fill="#7363d8"/><rect x="1484.28" y="1544.9" width="24" height="10.6" fill="#d5c8f7"/><rect x="1484.28" y="1534.3" width="24" height="10.6" fill="#5195e1"/><rect x="1484.28" y="1411.9" width="24" height="122.4" fill="#9fc8f9"/><rect x="1513.43" y="1507.7" width="24" height="82.3" fill="#f6cd4a"/><rect x="1513.43" y="1491.7" width="24" height="16.0" fill="#7363d8"/><rect x="1513.43" y="1481.1" width="24" height="10.6" fill="#d5c8f7"/><rect x="1513.43" y="1454.5" width="24" height="26.6" fill="#5195e1"/><rect x="1513.43" y="1374.7" width="24" height="79.8" fill="#9fc8f9"/><rect x="1542.57" y="1550.2" width="24" height="39.8" fill="#f6cd4a"/><rect x="1542.57" y="1529.0" width="24" height="21.3" fill="#7363d8"/><rect x="1542.57" y="1513.0" width="24" height="16.0" fill="#d5c8f7"/><rect x="1542.57" y="1486.4" width="24" height="26.6" fill="#5195e1"/><rect x="1542.57" y="1369.4" width="24" height="117.0" fill="#9fc8f9"/><rect x="1571.72" y="1529.0" width="24" height="61.0" fill="#f6cd4a"/><rect x="1571.72" y="1513.0" width="24" height="16.0" fill="#7363d8"/><rect x="1571.72" y="1507.7" width="24" height="5.3" fill="#d5c8f7"/><rect x="1571.72" y="1470.4" width="24" height="37.2" fill="#5195e1"/><rect x="1571.72" y="1406.6" width="24" height="63.8" fill="#9fc8f9"/><rect x="1600.87" y="1550.2" width="24" height="39.8" fill="#f6cd4a"/><rect x="1600.87" y="1534.3" width="24" height="16.0" fill="#7363d8"/><rect x="1600.87" y="1513.0" width="24" height="21.3" fill="#d5c8f7"/><rect x="1600.87" y="1470.4" width="24" height="42.6" fill="#5195e1"/><rect x="1600.87" y="1380.0" width="24" height="90.4" fill="#9fc8f9"/><rect x="1630.01" y="1571.5" width="24" height="18.5" fill="#f6cd4a"/><rect x="1630.01" y="1560.9" width="24" height="10.6" fill="#d5c8f7"/><rect x="1630.01" y="1481.1" width="24" height="79.8" fill="#5195e1"/><rect x="1630.01" y="1337.4" width="24" height="143.6" fill="#9fc8f9"/><rect x="1659.15" y="1550.2" width="24" height="39.8" fill="#f6cd4a"/><rect x="1659.15" y="1539.6" width="24" height="10.6" fill="#7363d8"/><rect x="1659.15" y="1529.0" width="24" height="10.6" fill="#d5c8f7"/><rect x="1659.15" y="1486.4" width="24" height="42.6" fill="#5195e1"/><rect x="1659.15" y="1348.1" width="24" height="138.3" fill="#9fc8f9"/><rect x="1688.30" y="1550.2" width="24" height="39.8" fill="#f6cd4a"/><rect x="1688.30" y="1539.6" width="24" height="10.6" fill="#7363d8"/><rect x="1688.30" y="1529.0" width="24" height="10.6" fill="#d5c8f7"/><rect x="1688.30" y="1486.4" width="24" height="42.6" fill="#5195e1"/><rect x="1688.30" y="1401.3" width="24" height="85.1" fill="#9fc8f9"/><rect x="1717.44" y="1571.5" width="24" height="18.5" fill="#f6cd4a"/><rect x="1717.44" y="1555.6" width="24" height="16.0" fill="#7363d8"/><rect x="1717.44" y="1539.6" width="24" height="16.0" fill="#d5c8f7"/><rect x="1717.44" y="1491.7" width="24" height="47.9" fill="#5195e1"/><rect x="1717.44" y="1300.2" width="24" height="191.5" fill="#9fc8f9"/><rect x="1746.59" y="1507.7" width="24" height="82.3" fill="#f6cd4a"/><rect x="1746.59" y="1486.4" width="24" height="21.3" fill="#7363d8"/><rect x="1746.59" y="1481.1" width="24" height="5.3" fill="#d5c8f7"/><rect x="1746.59" y="1443.8" width="24" height="37.2" fill="#5195e1"/><rect x="1746.59" y="1310.8" width="24" height="133.0" fill="#9fc8f9"/><rect x="1775.73" y="1486.4" width="24" height="103.6" fill="#f6cd4a"/><rect x="1775.73" y="1459.8" width="24" height="26.6" fill="#7363d8"/><rect x="1775.73" y="1406.6" width="24" height="53.2" fill="#5195e1"/><rect x="1775.73" y="1263.0" width="24" height="143.6" fill="#9fc8f9"/><rect x="1804.88" y="1571.5" width="24" height="18.5" fill="#f6cd4a"/><rect x="1804.88" y="1555.6" width="24" height="16.0" fill="#7363d8"/><rect x="1804.88" y="1534.3" width="24" height="21.3" fill="#d5c8f7"/><rect x="1804.88" y="1486.4" width="24" height="47.9" fill="#5195e1"/><rect x="1804.88" y="1284.2" width="24" height="202.2" fill="#9fc8f9"/><rect x="1834.03" y="1529.0" width="24" height="61.0" fill="#f6cd4a"/><rect x="1834.03" y="1497.0" width="24" height="31.9" fill="#7363d8"/><rect x="1834.03" y="1470.4" width="24" height="26.6" fill="#d5c8f7"/><rect x="1834.03" y="1459.8" width="24" height="10.6" fill="#5195e1"/><rect x="1834.03" y="1332.1" width="24" height="127.7" fill="#9fc8f9"/><rect x="1863.17" y="1550.2" width="24" height="39.8" fill="#f6cd4a"/><rect x="1863.17" y="1518.3" width="24" height="31.9" fill="#7363d8"/><rect x="1863.17" y="1513.0" width="24" height="5.3" fill="#d5c8f7"/><rect x="1863.17" y="1486.4" width="24" height="26.6" fill="#5195e1"/><rect x="1863.17" y="1369.4" width="24" height="117.0" fill="#9fc8f9"/><rect x="1892.32" y="1560.9" width="24" height="29.1" fill="#7363d8"/><rect x="1892.32" y="1523.6" width="24" height="37.2" fill="#d5c8f7"/><rect x="1892.32" y="1486.4" width="24" height="37.2" fill="#5195e1"/><rect x="1892.32" y="1294.9" width="24" height="191.5" fill="#9fc8f9"/><rect x="1921.46" y="1507.7" width="24" height="82.3" fill="#f6cd4a"/><rect x="1921.46" y="1465.1" width="24" height="42.6" fill="#7363d8"/><rect x="1921.46" y="1449.2" width="24" height="16.0" fill="#d5c8f7"/><rect x="1921.46" y="1427.9" width="24" height="21.3" fill="#5195e1"/><rect x="1921.46" y="1273.6" width="24" height="154.3" fill="#9fc8f9"/><rect x="1950.61" y="1550.2" width="24" height="39.8" fill="#f6cd4a"/><rect x="1950.61" y="1534.3" width="24" height="16.0" fill="#7363d8"/><rect x="1950.61" y="1529.0" width="24" height="5.3" fill="#d5c8f7"/><rect x="1950.61" y="1507.7" width="24" height="21.3" fill="#5195e1"/><rect x="1950.61" y="1353.4" width="24" height="154.3" fill="#9fc8f9"/><rect x="1979.75" y="1550.2" width="24" height="39.8" fill="#f6cd4a"/><rect x="1979.75" y="1534.3" width="24" height="16.0" fill="#7363d8"/><rect x="1979.75" y="1491.7" width="24" height="42.6" fill="#5195e1"/><rect x="1979.75" y="1289.6" width="24" height="202.2" fill="#9fc8f9"/><rect x="2008.89" y="1507.7" width="24" height="82.3" fill="#f6cd4a"/><rect x="2008.89" y="1497.0" width="24" height="10.6" fill="#7363d8"/><rect x="2008.89" y="1486.4" width="24" height="10.6" fill="#d5c8f7"/><rect x="2008.89" y="1470.4" width="24" height="16.0" fill="#5195e1"/><rect x="2008.89" y="1316.2" width="24" height="154.3" fill="#9fc8f9"/><rect x="2038.04" y="1571.5" width="24" height="18.5" fill="#f6cd4a"/><rect x="2038.04" y="1550.2" width="24" height="21.3" fill="#7363d8"/><rect x="2038.04" y="1539.6" width="24" height="10.6" fill="#d5c8f7"/><rect x="2038.04" y="1502.4" width="24" height="37.2" fill="#5195e1"/><rect x="2038.04" y="1438.5" width="24" height="63.8" fill="#9fc8f9"/><rect x="2067.18" y="1529.0" width="24" height="61.0" fill="#f6cd4a"/><rect x="2067.18" y="1513.0" width="24" height="16.0" fill="#7363d8"/><rect x="2067.18" y="1507.7" width="24" height="5.3" fill="#d5c8f7"/><rect x="2067.18" y="1459.8" width="24" height="47.9" fill="#5195e1"/><rect x="2067.18" y="1348.1" width="24" height="111.7" fill="#9fc8f9"/><rect x="2096.33" y="1529.0" width="24" height="61.0" fill="#f6cd4a"/><rect x="2096.33" y="1513.0" width="24" height="16.0" fill="#7363d8"/><rect x="2096.33" y="1502.4" width="24" height="10.6" fill="#d5c8f7"/><rect x="2096.33" y="1465.1" width="24" height="37.2" fill="#5195e1"/><rect x="2096.33" y="1337.4" width="24" height="127.7" fill="#9fc8f9"/><rect x="2125.47" y="1529.0" width="24" height="61.0" fill="#f6cd4a"/><rect x="2125.47" y="1518.3" width="24" height="10.6" fill="#7363d8"/><rect x="2125.47" y="1513.0" width="24" height="5.3" fill="#d5c8f7"/><rect x="2125.47" y="1491.7" width="24" height="21.3" fill="#5195e1"/><rect x="2125.47" y="1422.6" width="24" height="69.2" fill="#9fc8f9"/><rect x="2154.62" y="1529.0" width="24" height="61.0" fill="#f6cd4a"/><rect x="2154.62" y="1518.3" width="24" height="10.6" fill="#d5c8f7"/><rect x="2154.62" y="1454.5" width="24" height="63.8" fill="#5195e1"/><rect x="2154.62" y="1316.2" width="24" height="138.3" fill="#9fc8f9"/><rect x="2183.76" y="1507.7" width="24" height="82.3" fill="#f6cd4a"/><rect x="2183.76" y="1491.7" width="24" height="16.0" fill="#7363d8"/><rect x="2183.76" y="1486.4" width="24" height="5.3" fill="#d5c8f7"/><rect x="2183.76" y="1443.8" width="24" height="42.6" fill="#5195e1"/><rect x="2183.76" y="1348.1" width="24" height="95.8" fill="#9fc8f9"/><rect x="2212.91" y="1465.1" width="24" height="124.9" fill="#f6cd4a"/><rect x="2212.91" y="1449.2" width="24" height="16.0" fill="#7363d8"/><rect x="2212.91" y="1433.2" width="24" height="16.0" fill="#d5c8f7"/><rect x="2212.91" y="1406.6" width="24" height="26.6" fill="#5195e1"/><rect x="2212.91" y="1305.5" width="24" height="101.1" fill="#9fc8f9"/><rect x="2242.06" y="1555.6" width="24" height="34.4" fill="#7363d8"/><rect x="2242.06" y="1550.2" width="24" height="5.3" fill="#d5c8f7"/><rect x="2242.06" y="1544.9" width="24" height="5.3" fill="#5195e1"/><rect x="2242.06" y="1380.0" width="24" height="164.9" fill="#9fc8f9"/><rect x="2271.20" y="1571.5" width="24" height="18.5" fill="#f6cd4a"/><rect x="2271.20" y="1555.6" width="24" height="16.0" fill="#7363d8"/><rect x="2271.20" y="1513.0" width="24" height="42.6" fill="#5195e1"/><rect x="2271.20" y="1385.3" width="24" height="127.7" fill="#9fc8f9"/><rect x="2300.35" y="1550.2" width="24" height="39.8" fill="#f6cd4a"/><rect x="2300.35" y="1544.9" width="24" height="5.3" fill="#7363d8"/><rect x="2300.35" y="1486.4" width="24" height="58.5" fill="#5195e1"/><rect x="2300.35" y="1406.6" width="24" height="79.8" fill="#9fc8f9"/><rect x="2329.49" y="1550.2" width="24" height="39.8" fill="#f6cd4a"/><rect x="2329.49" y="1544.9" width="24" height="5.3" fill="#7363d8"/><rect x="2329.49" y="1539.6" width="24" height="5.3" fill="#d5c8f7"/><rect x="2329.49" y="1518.3" width="24" height="21.3" fill="#5195e1"/><rect x="2329.49" y="1411.9" width="24" height="106.4" fill="#9fc8f9"/><rect x="2358.64" y="1550.2" width="24" height="39.8" fill="#f6cd4a"/><rect x="2358.64" y="1523.6" width="24" height="26.6" fill="#7363d8"/><rect x="2358.64" y="1518.3" width="24" height="5.3" fill="#d5c8f7"/><rect x="2358.64" y="1491.7" width="24" height="26.6" fill="#5195e1"/><rect x="2358.64" y="1337.4" width="24" height="154.3" fill="#9fc8f9"/><rect x="2387.78" y="1529.0" width="24" height="61.0" fill="#f6cd4a"/><rect x="2387.78" y="1507.7" width="24" height="21.3" fill="#7363d8"/><rect x="2387.78" y="1491.7" width="24" height="16.0" fill="#d5c8f7"/><rect x="2387.78" y="1475.8" width="24" height="16.0" fill="#5195e1"/><rect x="2387.78" y="1390.6" width="24" height="85.1" fill="#9fc8f9"/><rect x="2416.93" y="1571.5" width="24" height="18.5" fill="#f6cd4a"/><rect x="2416.93" y="1566.2" width="24" height="5.3" fill="#7363d8"/><rect x="2416.93" y="1555.6" width="24" height="10.6" fill="#d5c8f7"/><rect x="2416.93" y="1544.9" width="24" height="10.6" fill="#5195e1"/><rect x="2416.93" y="1470.4" width="24" height="74.5" fill="#9fc8f9"/><rect x="2446.07" y="1582.2" width="24" height="7.8" fill="#7363d8"/><rect x="2446.07" y="1576.8" width="24" height="5.3" fill="#d5c8f7"/><rect x="2446.07" y="1523.6" width="24" height="53.2" fill="#5195e1"/><rect x="2446.07" y="1433.2" width="24" height="90.4" fill="#9fc8f9"/><rect x="2475.22" y="1550.2" width="24" height="39.8" fill="#f6cd4a"/><rect x="2475.22" y="1529.0" width="24" height="21.3" fill="#7363d8"/><rect x="2475.22" y="1518.3" width="24" height="10.6" fill="#d5c8f7"/><rect x="2475.22" y="1491.7" width="24" height="26.6" fill="#5195e1"/><rect x="2475.22" y="1337.4" width="24" height="154.3" fill="#9fc8f9"/><rect x="2504.36" y="1582.2" width="24" height="7.8" fill="#7363d8"/><rect x="2504.36" y="1576.8" width="24" height="5.3" fill="#d5c8f7"/><rect x="2504.36" y="1507.7" width="24" height="69.2" fill="#5195e1"/><rect x="2504.36" y="1417.2" width="24" height="90.4" fill="#9fc8f9"/><rect x="2533.51" y="1571.5" width="24" height="18.5" fill="#f6cd4a"/><rect x="2533.51" y="1560.9" width="24" height="10.6" fill="#7363d8"/><rect x="2533.51" y="1534.3" width="24" height="26.6" fill="#5195e1"/><rect x="2533.51" y="1427.9" width="24" height="106.4" fill="#9fc8f9"/><rect x="2562.65" y="1550.2" width="24" height="39.8" fill="#f6cd4a"/><rect x="2562.65" y="1534.3" width="24" height="16.0" fill="#7363d8"/><rect x="2562.65" y="1529.0" width="24" height="5.3" fill="#d5c8f7"/><rect x="2562.65" y="1497.0" width="24" height="31.9" fill="#5195e1"/><rect x="2562.65" y="1305.5" width="24" height="191.5" fill="#9fc8f9"/><rect x="2591.80" y="1587.5" width="24" height="2.5" fill="#7363d8"/><rect x="2591.80" y="1576.8" width="24" height="10.6" fill="#d5c8f7"/><rect x="2591.80" y="1513.0" width="24" height="63.8" fill="#5195e1"/><rect x="2591.80" y="1380.0" width="24" height="133.0" fill="#9fc8f9"/><rect x="2620.94" y="1571.5" width="24" height="18.5" fill="#f6cd4a"/><rect x="2620.94" y="1560.9" width="24" height="10.6" fill="#7363d8"/><rect x="2620.94" y="1555.6" width="24" height="5.3" fill="#d5c8f7"/><rect x="2620.94" y="1523.6" width="24" height="31.9" fill="#5195e1"/><rect x="2620.94" y="1411.9" width="24" height="111.7" fill="#9fc8f9"/><rect x="2650.09" y="1571.5" width="24" height="18.5" fill="#f6cd4a"/><rect x="2650.09" y="1566.2" width="24" height="5.3" fill="#7363d8"/><rect x="2650.09" y="1560.9" width="24" height="5.3" fill="#d5c8f7"/><rect x="2650.09" y="1491.7" width="24" height="69.2" fill="#5195e1"/><rect x="2650.09" y="1374.7" width="24" height="117.0" fill="#9fc8f9"/><rect x="2679.23" y="1571.5" width="24" height="18.5" fill="#f6cd4a"/><rect x="2679.23" y="1560.9" width="24" height="10.6" fill="#7363d8"/><rect x="2679.23" y="1550.2" width="24" height="10.6" fill="#d5c8f7"/><rect x="2679.23" y="1491.7" width="24" height="58.5" fill="#5195e1"/><rect x="2679.23" y="1321.5" width="24" height="170.2" fill="#9fc8f9"/><rect x="2708.38" y="1529.0" width="24" height="61.0" fill="#f6cd4a"/><rect x="2708.38" y="1518.3" width="24" height="10.6" fill="#7363d8"/><rect x="2708.38" y="1507.7" width="24" height="10.6" fill="#d5c8f7"/><rect x="2708.38" y="1454.5" width="24" height="53.2" fill="#5195e1"/><rect x="2708.38" y="1353.4" width="24" height="101.1" fill="#9fc8f9"/><rect x="2737.52" y="1507.7" width="24" height="82.3" fill="#f6cd4a"/><rect x="2737.52" y="1491.7" width="24" height="16.0" fill="#7363d8"/><rect x="2737.52" y="1481.1" width="24" height="10.6" fill="#d5c8f7"/><rect x="2737.52" y="1443.8" width="24" height="37.2" fill="#5195e1"/><rect x="2737.52" y="1342.8" width="24" height="101.1" fill="#9fc8f9"/><rect x="2766.66" y="1550.2" width="24" height="39.8" fill="#f6cd4a"/><rect x="2766.66" y="1523.6" width="24" height="26.6" fill="#7363d8"/><rect x="2766.66" y="1518.3" width="24" height="5.3" fill="#d5c8f7"/><rect x="2766.66" y="1481.1" width="24" height="37.2" fill="#5195e1"/><rect x="2766.66" y="1326.8" width="24" height="154.3" fill="#9fc8f9"/><rect x="2795.81" y="1529.0" width="24" height="61.0" fill="#f6cd4a"/><rect x="2795.81" y="1523.6" width="24" height="5.3" fill="#7363d8"/><rect x="2795.81" y="1513.0" width="24" height="10.6" fill="#d5c8f7"/><rect x="2795.81" y="1507.7" width="24" height="5.3" fill="#5195e1"/><rect x="2795.81" y="1396.0" width="24" height="111.7" fill="#9fc8f9"/><rect x="2824.95" y="1550.2" width="24" height="39.8" fill="#f6cd4a"/><rect x="2824.95" y="1534.3" width="24" height="16.0" fill="#7363d8"/><rect x="2824.95" y="1529.0" width="24" height="5.3" fill="#d5c8f7"/><rect x="2824.95" y="1465.1" width="24" height="63.8" fill="#5195e1"/><rect x="2824.95" y="1342.8" width="24" height="122.4" fill="#9fc8f9"/><rect x="2854.10" y="1550.2" width="24" height="39.8" fill="#f6cd4a"/><rect x="2854.10" y="1544.9" width="24" height="5.3" fill="#7363d8"/><rect x="2854.10" y="1529.0" width="24" height="16.0" fill="#d5c8f7"/><rect x="2854.10" y="1486.4" width="24" height="42.6" fill="#5195e1"/><rect x="2854.10" y="1369.4" width="24" height="117.0" fill="#9fc8f9"/><rect x="2883.24" y="1529.0" width="24" height="61.0" fill="#f6cd4a"/><rect x="2883.24" y="1523.6" width="24" height="5.3" fill="#7363d8"/><rect x="2883.24" y="1507.7" width="24" height="16.0" fill="#d5c8f7"/><rect x="2883.24" y="1491.7" width="24" height="16.0" fill="#5195e1"/><rect x="2883.24" y="1385.3" width="24" height="106.4" fill="#9fc8f9"/><rect x="2912.39" y="1550.2" width="24" height="39.8" fill="#f6cd4a"/><rect x="2912.39" y="1507.7" width="24" height="42.6" fill="#7363d8"/><rect x="2912.39" y="1459.8" width="24" height="47.9" fill="#5195e1"/><rect x="2912.39" y="1310.8" width="24" height="149.0" fill="#9fc8f9"/><rect x="2941.53" y="1486.4" width="24" height="103.6" fill="url(#h0)"/><rect x="2941.53" y="1481.1" width="24" height="5.3" fill="url(#h1)"/><rect x="2941.53" y="1475.8" width="24" height="5.3" fill="url(#h2)"/><rect x="2941.53" y="1449.2" width="24" height="26.6" fill="url(#h3)"/><rect x="2941.53" y="1284.2" width="24" height="164.9" fill="url(#h4)"/><rect x="520" y="1590.2" width="2448" height="1.8" fill="#5d6270"/><rect x="624.05" y="1591.4" width="1.5" height="9" fill="#5d6270"/><text x="624.8" y="1617.5" text-anchor="middle" font-size="17.3" fill="#2b303b">Tue 17</text><rect x="798.87" y="1591.4" width="1.5" height="9" fill="#5d6270"/><text x="799.6" y="1617.5" text-anchor="middle" font-size="17.3" fill="#2b303b">12:00</text><rect x="973.69" y="1591.4" width="1.5" height="9" fill="#5d6270"/><text x="974.4" y="1617.5" text-anchor="middle" font-size="17.3" fill="#2b303b">Wed 18</text><rect x="1148.51" y="1591.4" width="1.5" height="9" fill="#5d6270"/><text x="1149.3" y="1617.5" text-anchor="middle" font-size="17.3" fill="#2b303b">12:00</text><rect x="1323.33" y="1591.4" width="1.5" height="9" fill="#5d6270"/><text x="1324.1" y="1617.5" text-anchor="middle" font-size="17.3" fill="#2b303b">Thu 19</text><rect x="1498.15" y="1591.4" width="1.5" height="9" fill="#5d6270"/><text x="1498.9" y="1617.5" text-anchor="middle" font-size="17.3" fill="#2b303b">12:00</text><rect x="1672.97" y="1591.4" width="1.5" height="9" fill="#5d6270"/><text x="1673.7" y="1617.5" text-anchor="middle" font-size="17.3" fill="#2b303b">Fri 20</text><rect x="1847.79" y="1591.4" width="1.5" height="9" fill="#5d6270"/><text x="1848.5" y="1617.5" text-anchor="middle" font-size="17.3" fill="#2b303b">12:00</text><rect x="2022.61" y="1591.4" width="1.5" height="9" fill="#5d6270"/><text x="2023.4" y="1617.5" text-anchor="middle" font-size="17.3" fill="#2b303b">Sat 21</text><rect x="2197.43" y="1591.4" width="1.5" height="9" fill="#5d6270"/><text x="2198.2" y="1617.5" text-anchor="middle" font-size="17.3" fill="#2b303b">12:00</text><rect x="2372.25" y="1591.4" width="1.5" height="9" fill="#5d6270"/><text x="2373.0" y="1617.5" text-anchor="middle" font-size="17.3" fill="#2b303b">Feb 22</text><rect x="2547.07" y="1591.4" width="1.5" height="9" fill="#5d6270"/><text x="2547.8" y="1617.5" text-anchor="middle" font-size="17.3" fill="#2b303b">12:00</text><rect x="2721.89" y="1591.4" width="1.5" height="9" fill="#5d6270"/><text x="2722.6" y="1617.5" text-anchor="middle" font-size="17.3" fill="#2b303b">Mon 23</text><rect x="2896.71" y="1591.4" width="1.5" height="9" fill="#5d6270"/><text x="2897.5" y="1617.5" text-anchor="middle" font-size="17.3" fill="#2b303b">12:00</text><rect x="502" y="1650" width="19.5" height="19" rx="3" fill="#9fc8f9"/><text x="532" y="1666" font-size="20.8" fill="#2b303b">Error running tool (non-fatal)</text><rect x="822" y="1650" width="19.5" height="19" rx="3" fill="#5195e1"/><text x="851.5" y="1666" font-size="20.8" fill="#2b303b">Guardrail tripwire triggered</text><rect x="1128" y="1650" width="19.5" height="19" rx="3" fill="#d5c8f7"/><text x="1158.5" y="1666" font-size="20.8" fill="#2b303b">Max turns exceeded</text><rect x="1368" y="1650" width="19.5" height="19" rx="3" fill="#7363d8"/><text x="1398.5" y="1666" font-size="20.8" fill="#2b303b">Multiple handoffs requested</text><rect x="1682" y="1650" width="19.5" height="19" rx="3" fill="#f6cd4a"/><text x="1712" y="1666" font-size="20.8" fill="#2b303b">openai.AuthenticationError</text></svg>
<svg width="3020" height="1700" style="left:0;top:0;font-family:"Liberation Sans", sans-serif"><g fill="#dfe1e4"><path d="M24.5,21 C22.5,16 25,11.5 29,10.4 C32,9 35,9.5 38,8.8 C40.5,8.2 42.5,8 44.4,7 C47.5,8.5 51,11.5 51.6,14.6 L49.8,15.5 C51.5,19.5 52.5,24.5 51.8,28 C51.2,31 49.5,33 47.5,33.8 L36,35.5 C35,37 34.8,40 35.2,44 L35.8,47.5 L31,45.8 C29.5,44.2 26,43.5 23.4,44 C26,41.5 27.5,39 27.6,37 C26.5,34 24.6,31 24.6,27 Z"/><circle cx="23.3" cy="15.6" r="5.4"/><ellipse cx="27.3" cy="49.9" rx="6.6" ry="7"/><path d="M35.2,35.3 L60.7,31.8 L61.9,49 L38.2,53.6 Z"/></g><path d="M27.5,11.8 C29.5,13.5 29.3,18 27,20.5" fill="none" stroke="#2a2e39" stroke-width="0.9"/><path d="M23.8,43.6 C27,42.5 30,43.5 31.5,46.5" fill="none" stroke="#2a2e39" stroke-width="0.9"/><path d="M39.1,51.2 L42.2,45.5 L47.5,45 L51.5,39.3 L55,41.5 L59.4,35.3 L59.9,47.7 Z" fill="#2a2e39"/><ellipse cx="35.8" cy="21.6" rx="1.5" ry="1.9" fill="#2a2e39"/><ellipse cx="47.5" cy="27.8" rx="2.3" ry="1.5" fill="#2a2e39"/><path d="M34,31.5 C36.5,34.5 40.5,35 45,33" fill="none" stroke="#2a2e39" stroke-width="0.9"/><path d="M44.6,8.5 C45.5,11 47,13 49.8,15.2" fill="none" stroke="#2a2e39" stroke-width="0.8"/><circle cx="36" cy="278.2" r="8.6" fill="none" stroke="#c9cbd0" stroke-width="2"/><path d="M42.2,284.4 L49.3,291.5" fill="none" stroke="#c9cbd0" stroke-width="2" stroke-width="2.2"/><defs><linearGradient id="sepg" x1="0" y1="0" x2="1" y2="0"><stop offset="0" stop-color="#2a2e39"/><stop offset="0.5" stop-color="#55596a"/><stop offset="1" stop-color="#2a2e39"/></linearGradient></defs><rect x="14" y="321.5" width="50" height="1.5" fill="url(#sepg)"/><rect x="14" y="686.5999999999999" width="50" height="1.5" fill="url(#sepg)"/><rect x="14" y="1163.0" width="50" height="1.5" fill="url(#sepg)"/><path d="M28.16,359.84 A11,11 0 1 1 28.16,367.36" fill="none" stroke="#c9cbd0" stroke-width="2"/><path d="M28.2,352.5 L28.2,358.5 L34,358.5" fill="none" stroke="#c9cbd0" stroke-width="2"/><path d="M38,357 L38,366 L33,366" fill="none" stroke="#c9cbd0" stroke-width="2"/><path d="M41,408.3 Q42.84,415.66 50.2,417.5 Q42.84,419.34 41,426.7 Q39.16,419.34 31.8,417.5 Q39.16,415.66 41,408.3 Z" fill="#c9cbd0"/><path d="M31.4,421.2 Q32.519999999999996,425.68 37.0,426.8 Q32.519999999999996,427.92 31.4,432.40000000000003 Q30.279999999999998,427.92 25.799999999999997,426.8 Q30.279999999999998,425.68 31.4,421.2 Z" fill="#c9cbd0"/><path d="M24.6,465.5 L24.6,485.5 L51.8,485.5" fill="none" stroke="#c9cbd0" stroke-width="2" stroke-width="1.6"/><path d="M27,483.5 L27,471 L32,468.5 L38,476 L44.5,470 L50,483.5 Z" fill="#c9cbd0"/><path d="M48.51,536.23 A11.5,11.5 0 1 1 43.45,522.34" fill="none" stroke="#c9cbd0" stroke-width="2" stroke-dasharray="36 3 3 3 30 3"/><path d="M40.70,537.50 A6,6 0 1 1 43.34,530.25" fill="none" stroke="#c9cbd0" stroke-width="2"/><path d="M37.7,532.3 L49,521" fill="none" stroke="#c9cbd0" stroke-width="2"/><path d="M33.60,600.78 A12,12 0 0 1 33.60,578.22" fill="none" stroke="#c9cbd0" stroke-width="2" stroke-dasharray="8 3"/><path d="M41.80,578.22 A12,12 0 0 1 41.80,600.78" fill="none" stroke="#c9cbd0" stroke-width="2" stroke-dasharray="8 3"/><path d="M34.45,595.13 A6.5,6.5 0 0 1 34.45,583.87" fill="none" stroke="#c9cbd0" stroke-width="2"/><path d="M40.95,583.87 A6.5,6.5 0 0 1 40.95,595.13" fill="none" stroke="#c9cbd0" stroke-width="2"/><circle cx="37.7" cy="589.5" r="1.6" fill="#c9cbd0"/><path d="M41,632 L28,648.5 L36,648.5 L34,658 L47.5,641.5 L39.5,641.5 Z" fill="#c9cbd0"/><polygon points="30.40,716.50 36.03,719.75 36.03,726.25 30.40,729.50 24.77,726.25 24.77,719.75" fill="#c9cbd0"/><polygon points="45.20,717.30 50.14,720.15 50.14,725.85 45.20,728.70 40.26,725.85 40.26,720.15" fill="none" stroke="#c9cbd0" stroke-width="1.8"/><polygon points="37.80,728.70 43.43,731.95 43.43,738.45 37.80,741.70 32.17,738.45 32.17,731.95" fill="#c9cbd0"/><path d="M29,796 C22,796 21,786 27.5,784.5 C27.5,775 40,772 43,780 C50,779 53,787 48,793 L46,796" fill="none" stroke="#c9cbd0" stroke-width="2"/><text x="37.5" y="794" text-anchor="middle" font-size="16" font-weight="700" fill="#c9cbd0" font-family="Liberation Sans">$</text><g fill="#c9cbd0"><rect x="24" y="829" width="28" height="3"/><rect x="24" y="836" width="5" height="3"/><rect x="33" y="836" width="19" height="3"/><rect x="33" y="843" width="10" height="3"/><rect x="46.5" y="843" width="5.5" height="3"/><rect x="38" y="850" width="5.5" height="3"/></g><path d="M30,888.5 L30,884 L50.5,884 L50.5,900 L44,900" fill="none" stroke="#c9cbd0" stroke-width="2" stroke-width="1.8"/><path d="M27.5,897 L27.5,893 L40,893 L40,907.5 L35,907.5" fill="none" stroke="#c9cbd0" stroke-width="2" stroke-width="1.8"/><rect x="24.5" y="898" width="6.5" height="11" fill="none" stroke="#c9cbd0" stroke-width="2" stroke-width="1.8"/><path d="M36,950 C36,944 26,943 25.5,948 C25,953 31,953.5 38,953.5 C45,953.5 50.5,955 50,960 C49.5,965 41,965 40,960" fill="none" stroke="#c9cbd0" stroke-width="2"/><path d="M37,957 L40,960.5 L43.5,957.5" fill="none" stroke="#c9cbd0" stroke-width="2" stroke-width="1.6"/><path d="M37.7,996 L47.5,999.5 L47.5,1009 C47.5,1015 42,1019.5 37.7,1021 C33.4,1019.5 28,1015 28,1009 L28,999.5 Z" fill="none" stroke="#c9cbd0" stroke-width="2"/><path d="M37.7,996.5 L37.7,1020.5 M28.5,1002 L37,1007 M28.5,1010 L37,1015" fill="none" stroke="#c9cbd0" stroke-width="2" stroke-width="1.6"/><path d="M24.5,1053 L44,1053 L44,1064 M24.5,1053 L24.5,1072.5 L34,1072.5 M24.5,1058.5 L44,1058.5 M30,1053 L30,1072.5" fill="none" stroke="#c9cbd0" stroke-width="2" stroke-width="1.8"/><circle cx="41.3" cy="1069.8" r="5.5" fill="none" stroke="#c9cbd0" stroke-width="2"/><path d="M45.3,1073.8 L50.5,1079" fill="none" stroke="#c9cbd0" stroke-width="2" stroke-width="2.2"/><path d="M48.04,1122.82 A10.5,10.5 0 1 1 37.33,1110.51" fill="none" stroke="#f4f4f6" stroke-width="2.2"/><path d="M43.5,1108.9 Q44.62,1113.38 49.1,1114.5 Q44.62,1115.62 43.5,1120.1 Q42.38,1115.62 37.9,1114.5 Q42.38,1113.38 43.5,1108.9 Z" fill="#f4f4f6"/><path d="M36.8,1118.3999999999999 Q37.48,1121.12 40.199999999999996,1121.8 Q37.48,1122.48 36.8,1125.2 Q36.12,1122.48 33.4,1121.8 Q36.12,1121.12 36.8,1118.3999999999999 Z" fill="#f4f4f6"/><path d="M31.41,1199.77 Q31.67,1194.59 37.70,1194.59 Q43.73,1194.59 43.99,1199.77 L43.99,1208.27 Q43.73,1214.82 37.70,1214.82 Q31.67,1214.82 31.41,1208.27 Z" fill="none" stroke="#c9cbd0" stroke-width="2"/><path d="M32.18,1198.07 L37.70,1203.68 L43.23,1198.07 M37.70,1203.68 L37.70,1214.22 M35.23,1191.27 L35.23,1194.67 M40.25,1191.27 L40.25,1194.67 M35.23,1194.33 L40.25,1194.33 M24.53,1204.62 L31.24,1204.62 M44.16,1204.62 L50.79,1204.62 M26.40,1193.31 L31.92,1198.58 M48.75,1193.31 L43.48,1198.58 M26.65,1216.01 L31.50,1210.82 M48.58,1215.75 L43.82,1210.82" fill="none" stroke="#c9cbd0" stroke-width="2"/><path d="M27.27,1268.82 A12.3,12.3 0 0 1 37.27,1250.01" fill="none" stroke="#c9cbd0" stroke-width="2.8" stroke-dasharray="2.4 2.1"/><path d="M48.3,1257.2 Q50.6,1264.5 47.3,1271.6" fill="none" stroke="#c9cbd0" stroke-width="3.4" stroke-linecap="round"/><path d="M46.4,1250.6 L41.3,1265.8 Q39.5,1268.6 37,1266.8 Q35.4,1264.8 37.3,1262.6 Z" fill="#c9cbd0"/><g fill="#c9cbd0"><rect x="24.8" y="1303.8" width="4.8" height="3.8"/><rect x="31.8" y="1303.8" width="4.8" height="3.8"/><rect x="39.8" y="1303.8" width="4.8" height="3.8"/><rect x="24.8" y="1311" width="6.5" height="3.8"/><rect x="24.8" y="1318" width="6" height="3.8"/></g><circle cx="42" cy="1318" r="7" fill="none" stroke="#c9cbd0" stroke-width="2.4"/><path d="M37,1323.5 L30.5,1330" stroke="#c9cbd0" stroke-width="2.6"/><path d="M39,1319.5 L39,1316 Q40.5,1313.5 43.5,1313.5 L43.5,1319.5 Z" fill="#c9cbd0"/><path d="M24,1494 L30,1494 Q29,1488 34,1488 Q39,1488 38,1494 L44,1494 L44,1499 Q50,1497.5 50,1501.5 Q50,1506 44,1504.5 L44,1512 L38.5,1512 Q39.5,1507 34,1507 Q28.5,1507 29.5,1512 L24,1512 Z" fill="#c9cbd0"/><clipPath id="avc"><circle cx="38.2" cy="1560.5" r="17.5"/></clipPath><g clip-path="url(#avc)"><rect x="20" y="1543" width="36" height="36" fill="#1c13a8"/><g fill="#7fd6dc"><rect x="30" y="1546" width="5" height="6"/><rect x="41" y="1546" width="5" height="6"/><rect x="30" y="1552" width="16" height="5"/><rect x="25" y="1557" width="6" height="5"/><rect x="45" y="1557" width="6" height="5"/><rect x="35" y="1557" width="6" height="5"/><rect x="30" y="1562" width="5" height="5"/><rect x="41" y="1562" width="5" height="5"/><rect x="22" y="1562" width="4" height="5"/><rect x="50" y="1562" width="4" height="5"/><rect x="25" y="1567" width="5" height="5"/><rect x="35" y="1567" width="6" height="5"/><rect x="46" y="1567" width="5" height="5"/></g></g><rect x="0" y="1613" width="83" height="1.3" fill="#4b4f5a"/><path d="M34.5,1634 C34.5,1627.5 45.5,1627.5 45.5,1634 C45.5,1638 40,1638.5 40,1643" fill="none" stroke="#c9cbd0" stroke-width="2"/><rect x="38.8" y="1646" width="2.4" height="2.6" fill="#c9cbd0"/><text x="39.7" y="1685.5" text-anchor="middle" font-size="20" fill="#c9cbd0" font-family="Liberation Sans">Help</text><defs><linearGradient id="llmg" x1="0" y1="0" x2="0" y2="1"><stop offset="0" stop-color="#5f78de"/><stop offset="1" stop-color="#263049"/></linearGradient><linearGradient id="llms" x1="0" y1="0" x2="0" y2="1"><stop offset="0" stop-color="#5d74d8"/><stop offset="1" stop-color="#3d4f94"/></linearGradient></defs><path d="M145.90,39.00 A14.6,14.6 0 1 1 130.79,24.41" fill="none" stroke="url(#llmg)" stroke-width="3" stroke-linecap="butt"/><path d="M139.3,23.8 Q140.54100000000003,29.859 146.60000000000002,31.1 Q140.54100000000003,32.341 139.3,38.4 Q138.059,32.341 132.0,31.1 Q138.059,29.859 139.3,23.8 Z" fill="#5a70d4"/><path d="M130.3,35.6 Q131.048,39.252 134.70000000000002,40 Q131.048,40.748 130.3,44.4 Q129.55200000000002,40.748 125.9,40 Q129.55200000000002,39.252 130.3,35.6 Z" fill="#485aa8"/><path d="M125.5,112.6 L120.8,118.2 L125.5,123.7 M138.3,112.6 L143,118.2 L138.3,123.7 M134,109.5 L130.3,127" fill="none" stroke="#fff" stroke-width="2"/><path d="M297.6,114.8 L306.1,124.2 L314.6,114.8" fill="none" stroke="#1f2a35" stroke-width="2.3"/><path d="M627.7,116 L643.1,116 L635.4000000000001,124.3 Z" fill="#666b74"/><path d="M868.5,116 L883.9,116 L876.2,124.3 Z" fill="#666b74"/><path d="M2804.7,116 L2820.1,116 L2812.3999999999996,124.3 Z" fill="#666b74"/><path d="M943,106.3 L943,130 M931.2,118.1 L954.8,118.1" stroke="#2f6bc4" stroke-width="3.6"/><path d="M2632.1,30 L2632.1,48.3 L2655.8,48.3" fill="none" stroke="#6b717b" stroke-width="1.4"/><path d="M2635.1,44.8 L2635.1,37.3 L2640.7,31.9 L2646.7,38.7 L2652.1,35.1 L2654.8,44.8 Z" fill="#6b717b"/><rect x="2859.7" y="26" width="5" height="6" fill="#6b717b" transform="rotate(0 2862.2 38.7)"/><rect x="2859.7" y="26" width="5" height="6" fill="#6b717b" transform="rotate(45 2862.2 38.7)"/><rect x="2859.7" y="26" width="5" height="6" fill="#6b717b" transform="rotate(90 2862.2 38.7)"/><rect x="2859.7" y="26" width="5" height="6" fill="#6b717b" transform="rotate(135 2862.2 38.7)"/><rect x="2859.7" y="26" width="5" height="6" fill="#6b717b" transform="rotate(180 2862.2 38.7)"/><rect x="2859.7" y="26" width="5" height="6" fill="#6b717b" transform="rotate(225 2862.2 38.7)"/><rect x="2859.7" y="26" width="5" height="6" fill="#6b717b" transform="rotate(270 2862.2 38.7)"/><rect x="2859.7" y="26" width="5" height="6" fill="#6b717b" transform="rotate(315 2862.2 38.7)"/><circle cx="2862.2" cy="38.7" r="9" fill="#6b717b"/><circle cx="2862.2" cy="38.7" r="4.2" fill="#fff"/><path d="M2763.3,110 L2779.5,110 M2766,110.5 L2766,117 L2763,121.8 L2779.8,121.8 L2776.8,117 L2776.8,110.5 M2770.9,122 L2770.9,129.7" fill="none" stroke="#6b717b" stroke-width="1.5"/><path d="M2861.8,118 L2872.2,107.8 L2872.2,128.3 Z M2872.2,118 L2882.2,107.8 L2882.2,128.3 Z" fill="#6b717b"/><path d="M2958.8,107.8 L2969.2,118 L2958.8,128.3 Z M2969.2,107.8 L2979.2,118 L2969.2,128.3 Z" fill="#6b717b"/><rect x="2910.7" y="107" width="7.2" height="21.8" fill="#fff"/><rect x="2922.2" y="107" width="7.2" height="21.8" fill="#fff"/><circle cx="151" cy="221.4" r="10.3" fill="none" stroke="#fff" stroke-width="2.2"/><ellipse cx="151" cy="221.4" rx="4.64" ry="10.3" fill="none" stroke="#fff" stroke-width="2.2"/><path d="M140.7,221.4 L161.3,221.4" stroke="#fff" stroke-width="2.2"/><path d="M145.03,287.24 Q145.28,282.24 151.10,282.24 Q156.92,282.24 157.17,287.24 L157.17,295.44 Q156.92,301.76 151.10,301.76 Q145.28,301.76 145.03,295.44 Z" fill="none" stroke="#1f2a35" stroke-width="2"/><path d="M145.77,285.60 L151.10,291.02 L156.43,285.60 M151.10,291.02 L151.10,301.18 M148.72,279.04 L148.72,282.32 M153.56,279.04 L153.56,282.32 M148.72,282.00 L153.56,282.00 M138.39,291.92 L144.87,291.92 M157.33,291.92 L163.73,291.92 M140.19,281.01 L145.52,286.10 M161.76,281.01 L156.68,286.10 M140.44,302.91 L145.11,297.90 M161.60,302.66 L157.00,297.90" fill="none" stroke="#1f2a35" stroke-width="2"/><path d="M142,356 L142,369.7 L161.7,369.7" fill="none" stroke="#1f2a35" stroke-width="2"/><path d="M145.5,365.5 Q149,365 151,358.5 Q153.5,353 156,358.5 Q158,365 161.5,365.5" fill="none" stroke="#1f2a35" stroke-width="1.7"/><polygon points="151.10,421.30 159.59,426.20 159.59,436.00 151.10,440.90 142.61,436.00 142.61,426.20" fill="none" stroke="#1f2a35" stroke-width="2" stroke-linejoin="round"/><text x="151.1" y="436.14" text-anchor="middle" font-size="14" font-weight="700" fill="#1f2a35" font-family="Liberation Sans">$</text><path d="M140.9,508.3 L150,499.6 C148.8,496.8 149.2,493.6 151.6,491.8 C153.6,490.3 156,490.1 157.6,490.9 L153.9,494.9 C153.1,496.5 153.8,498.4 155.5,498.9 C156.6,499.2 157.6,498.9 158.3,498.1 L161.3,494.8 C162.7,495.8 163.1,497.8 162.4,499.7 C161.3,502.6 158.1,504.2 155,503.9 L152.9,503.4 L144.3,511.6 C143.2,512.6 141.6,512.3 140.9,511.2 C140.3,510.3 140.3,509.1 140.9,508.3 Z" fill="none" stroke="#1f2a35" stroke-width="1.9" stroke-linejoin="round"/><path d="M143,563 L160,563 Q161.5,563 161.5,564.5 L161.5,575.5 Q161.5,577 160,577 L151,577 L145.5,582.5 L145.5,577 L143,577 Q141.2,577 141.2,575.5 L141.2,564.5 Q141.2,563 143,563 Z" fill="none" stroke="#1f2a35" stroke-width="1.9" stroke-linejoin="round"/><path d="M145.5,566.5 L149,569.5 L145.5,572.5 M151,573 L157.5,573" fill="none" stroke="#1f2a35" stroke-width="1.7"/><circle cx="151.4" cy="641.4" r="9.8" fill="none" stroke="#1f2a35" stroke-width="2"/><path d="M152.87,636.50 L152.87,643.36 L146.99,643.36" fill="none" stroke="#1f2a35" stroke-width="2"/><path d="M151.4,700 L160,703 L160,710 C160,715 155.5,719 151.4,720.5 C147.3,719 142.8,715 142.8,710 L142.8,703 Z" fill="none" stroke="#1f2a35" stroke-width="2"/><path d="M151.4,700.5 L151.4,720 M143.2,706 L151,710.5 M143.2,713 L150.5,717" fill="none" stroke="#1f2a35" stroke-width="1.6"/><polygon points="144.60,770.60 149.45,773.40 149.45,779.00 144.60,781.80 139.75,779.00 139.75,773.40" fill="#1f2a35"/><polygon points="158.00,771.30 162.24,773.75 162.24,778.65 158.00,781.10 153.76,778.65 153.76,773.75" fill="none" stroke="#1f2a35" stroke-width="1.6"/><polygon points="151.40,781.70 156.25,784.50 156.25,790.10 151.40,792.90 146.55,790.10 146.55,784.50" fill="#1f2a35"/><defs><pattern id="hcol" patternUnits="userSpaceOnUse" width="3" height="3" patternTransform="rotate(45)"><rect width="1" height="3" fill="#777"/></pattern></defs><rect x="140.2" y="856" width="22.4" height="22" rx="2" fill="none" stroke="#1f2a35" stroke-width="1.9"/><rect x="141.5" y="857" width="6.5" height="20" fill="url(#hcol)"/><path d="M156.5,862 L151.5,867 L156.5,872" fill="none" stroke="#1f2a35" stroke-width="2"/><circle cx="456.7" cy="219.3" r="13.2" fill="none" stroke="#636a73" stroke-width="2.4"/><ellipse cx="456.7" cy="219.3" rx="5.94" ry="13.2" fill="none" stroke="#636a73" stroke-width="2.4"/><path d="M443.5,219.3 L469.9,219.3" stroke="#636a73" stroke-width="2.4"/><path transform="translate(2385.80,204.80) scale(1.1667)" d="M22.2819 9.8211a5.9847 5.9847 0 0 0-.5157-4.9108 6.0462 6.0462 0 0 0-6.5098-2.9A6.0651 6.0651 0 0 0 4.9807 4.1818a5.9847 5.9847 0 0 0-3.9977 2.9 6.0462 6.0462 0 0 0 .7427 7.0966 5.98 5.98 0 0 0 .511 4.9107 6.051 6.051 0 0 0 6.5146 2.9001A5.9847 5.9847 0 0 0 13.2599 24a6.0557 6.0557 0 0 0 5.7718-4.2058 5.9894 5.9894 0 0 0 3.9977-2.9001 6.0557 6.0557 0 0 0-.7475-7.0729zm-9.022 12.6081a4.4755 4.4755 0 0 1-2.8764-1.0408l.1419-.0804 4.7783-2.7582a.7948.7948 0 0 0 .3927-.6813v-6.7369l2.02 1.1686a.071.071 0 0 1 .038.052v5.5826a4.504 4.504 0 0 1-4.4945 4.4944zm-9.6607-4.1254a4.4708 4.4708 0 0 1-.5346-3.0137l.142.0852 4.783 2.7582a.7712.7712 0 0 0 .7806 0l5.8428-3.3685v2.3324a.0804.0804 0 0 1-.0332.0615L9.74 19.9502a4.4992 4.4992 0 0 1-6.1408-1.6464zM2.3408 7.8956a4.485 4.485 0 0 1 2.3655-1.9728V11.6a.7664.7664 0 0 0 .3879.6765l5.8144 3.3543-2.0201 1.1685a.0757.0757 0 0 1-.071 0l-4.8303-2.7865A4.504 4.504 0 0 1 2.3408 7.872zm16.5963 3.8558L13.1038 8.364 15.1192 7.2a.0757.0757 0 0 1 .071 0l4.8303 2.7913a4.4944 4.4944 0 0 1-.6765 8.1042v-5.6772a.79.79 0 0 0-.407-.667zm2.0107-3.0231l-.142-.0852-4.7735-2.7818a.7759.7759 0 0 0-.7854 0L9.409 9.2297V6.8974a.0662.0662 0 0 1 .0284-.0615l4.8303-2.7866a4.4992 4.4992 0 0 1 6.6802 4.66zM8.3065 12.863l-2.02-1.1638a.0804.0804 0 0 1-.038-.0567V6.0742a4.4992 4.4992 0 0 1 7.3757-3.4537l-.142.0805L8.704 5.459a.7948.7948 0 0 0-.3927.6813zm1.0976-2.3654l2.602-1.4998 2.6069 1.4998v2.9994l-2.5974 1.4997-2.6067-1.4997Z" fill="#000"/><path transform="translate(2643.80,204.80) scale(1.1667)" d="M22.2819 9.8211a5.9847 5.9847 0 0 0-.5157-4.9108 6.0462 6.0462 0 0 0-6.5098-2.9A6.0651 6.0651 0 0 0 4.9807 4.1818a5.9847 5.9847 0 0 0-3.9977 2.9 6.0462 6.0462 0 0 0 .7427 7.0966 5.98 5.98 0 0 0 .511 4.9107 6.051 6.051 0 0 0 6.5146 2.9001A5.9847 5.9847 0 0 0 13.2599 24a6.0557 6.0557 0 0 0 5.7718-4.2058 5.9894 5.9894 0 0 0 3.9977-2.9001 6.0557 6.0557 0 0 0-.7475-7.0729zm-9.022 12.6081a4.4755 4.4755 0 0 1-2.8764-1.0408l.1419-.0804 4.7783-2.7582a.7948.7948 0 0 0 .3927-.6813v-6.7369l2.02 1.1686a.071.071 0 0 1 .038.052v5.5826a4.504 4.504 0 0 1-4.4945 4.4944zm-9.6607-4.1254a4.4708 4.4708 0 0 1-.5346-3.0137l.142.0852 4.783 2.7582a.7712.7712 0 0 0 .7806 0l5.8428-3.3685v2.3324a.0804.0804 0 0 1-.0332.0615L9.74 19.9502a4.4992 4.4992 0 0 1-6.1408-1.6464zM2.3408 7.8956a4.485 4.485 0 0 1 2.3655-1.9728V11.6a.7664.7664 0 0 0 .3879.6765l5.8144 3.3543-2.0201 1.1685a.0757.0757 0 0 1-.071 0l-4.8303-2.7865A4.504 4.504 0 0 1 2.3408 7.872zm16.5963 3.8558L13.1038 8.364 15.1192 7.2a.0757.0757 0 0 1 .071 0l4.8303 2.7913a4.4944 4.4944 0 0 1-.6765 8.1042v-5.6772a.79.79 0 0 0-.407-.667zm2.0107-3.0231l-.142-.0852-4.7735-2.7818a.7759.7759 0 0 0-.7854 0L9.409 9.2297V6.8974a.0662.0662 0 0 1 .0284-.0615l4.8303-2.7866a4.4992 4.4992 0 0 1 6.6802 4.66zM8.3065 12.863l-2.02-1.1638a.0804.0804 0 0 1-.038-.0567V6.0742a4.4992 4.4992 0 0 1 7.3757-3.4537l-.142.0805L8.704 5.459a.7948.7948 0 0 0-.3927.6813zm1.0976-2.3654l2.602-1.4998 2.6069 1.4998v2.9994l-2.5974 1.4997-2.6067-1.4997Z" fill="#000"/><path d="M2951.7,214.6 L2961.5,225.4 L2971.3,214.6" fill="none" stroke="#606569" stroke-width="2.4"/><path d="M493.3,342.8 Q495.66,352.24 505.1,354.6 Q495.66,356.96000000000004 493.3,366.40000000000003 Q490.94,356.96000000000004 481.5,354.6 Q490.94,352.24 493.3,342.8 Z" fill="#5b6ad6"/><path d="M480.5,360.9 Q481.9,366.5 487.5,367.9 Q481.9,369.29999999999995 480.5,374.9 Q479.1,369.29999999999995 473.5,367.9 Q479.1,366.5 480.5,360.9 Z" fill="#5b6ad6"/><circle cx="675.8" cy="358.7" r="11" fill="none" stroke="#5b6ad6" stroke-width="1.9"/><path d="M677.45,353.20 L677.45,360.90 L670.85,360.90" fill="none" stroke="#5b6ad6" stroke-width="1.9"/><path d="M2906,359 L2932,359 M2922,349 L2932,359 L2922,369" fill="none" stroke="#5b6ad6" stroke-width="2"/><path d="M485.20,456.00 Q485.50,449.90 492.60,449.90 Q499.70,449.90 500.00,456.00 L500.00,466.00 Q499.70,473.70 492.60,473.70 Q485.50,473.70 485.20,466.00 Z" fill="none" stroke="#636a73" stroke-width="2"/><path d="M486.10,454.00 L492.60,460.60 L499.10,454.00 M492.60,460.60 L492.60,473.00 M489.70,446.00 L489.70,450.00 M495.60,446.00 L495.60,450.00 M489.70,449.60 L495.60,449.60 M477.10,461.70 L485.00,461.70 M500.20,461.70 L508.00,461.70 M479.30,448.40 L485.80,454.60 M505.60,448.40 L499.40,454.60 M479.60,475.10 L485.30,469.00 M505.40,474.80 L499.80,469.00" fill="none" stroke="#636a73" stroke-width="2"/><circle cx="910.8" cy="461.2" r="13.2" fill="none" stroke="#636a73" stroke-width="2.2"/><path d="M912.78,454.60 L912.78,463.84 L904.86,463.84" fill="none" stroke="#636a73" stroke-width="2.2"/><polygon points="1328.40,449.20 1339.31,455.50 1339.31,468.10 1328.40,474.40 1317.49,468.10 1317.49,455.50" fill="none" stroke="#636a73" stroke-width="2.2" stroke-linejoin="round"/><text x="1328.4" y="468.28" text-anchor="middle" font-size="18" font-weight="700" fill="#636a73" font-family="Liberation Sans">$</text><ellipse cx="1746.7" cy="456" rx="12.4" ry="6" fill="none" stroke="#636a73" stroke-width="2.2"/><path d="M1734.3,456 L1734.3,464 Q1734.3,470.5 1746.7,470.5 Q1759.1,470.5 1759.1,464 L1759.1,456" fill="none" stroke="#636a73" stroke-width="2.2"/><path d="M1746,462.5 L1746,470 M1750.5,462 L1750.5,469.5 M1755,460.5 L1755,468" stroke="#636a73" stroke-width="1.6"/><path d="M2167.9,448.5 Q2169.664,456.536 2177.7000000000003,458.3 Q2169.664,460.064 2167.9,468.1 Q2166.136,460.064 2158.1,458.3 Q2166.136,456.536 2167.9,448.5 Z" fill="#636a73"/><path d="M2157.4,462.9 Q2158.48,467.82 2163.4,468.9 Q2158.48,469.97999999999996 2157.4,474.9 Q2156.32,469.97999999999996 2151.4,468.9 Q2156.32,467.82 2157.4,462.9 Z" fill="#636a73"/><path d="M2592.3,449.3 C2582,446 2571,450 2572,456.5 C2573,461 2580,462 2586,462 C2593,462 2595.5,460 2594,458 C2592,455.5 2580,456.5 2577,458.5" fill="none" stroke="#636a73" stroke-width="2.2" stroke-linecap="round"/><path d="M2574,462 C2575,466.5 2578,469 2585,469 C2591.5,469 2592.5,466.5 2590,465.5 C2587,464 2580,465 2578.5,467" fill="none" stroke="#636a73" stroke-width="2.2" stroke-linecap="round"/><path d="M2575.5,470.7 C2578,473 2581,474.3 2584.5,474.8" fill="none" stroke="#636a73" stroke-width="2.2" stroke-linecap="round"/><path d="M2920.20,557.50 L2920.20,565.80 L2941.60,565.80 L2941.60,557.50" fill="none" stroke="#636a73" stroke-width="2"/><path d="M2930.90,559.20 L2930.90,544.20 M2924.00,550.80 L2930.90,544.00 L2937.80,550.80" fill="none" stroke="#636a73" stroke-width="2"/><path d="M2935.30,1129.90 L2935.30,1138.20 L2956.70,1138.20 L2956.70,1129.90" fill="none" stroke="#636a73" stroke-width="2"/><path d="M2946.00,1131.60 L2946.00,1116.60 M2939.10,1123.20 L2946.00,1116.40 L2952.90,1123.20" fill="none" stroke="#636a73" stroke-width="2"/><path d="M448.63,1040.91 Q448.94,1034.51 456.40,1034.51 Q463.85,1034.51 464.17,1040.91 L464.17,1051.41 Q463.85,1059.49 456.40,1059.49 Q448.94,1059.49 448.63,1051.41 Z" fill="none" stroke="#636a73" stroke-width="2.1"/><path d="M449.57,1038.81 L456.40,1045.74 L463.22,1038.81 M456.40,1045.74 L456.40,1058.76 M453.35,1030.41 L453.35,1034.61 M459.55,1030.41 L459.55,1034.61 M453.35,1034.19 L459.55,1034.19 M440.12,1046.89 L448.42,1046.89 M464.38,1046.89 L472.57,1046.89 M442.44,1032.93 L449.26,1039.44 M470.05,1032.93 L463.54,1039.44 M442.75,1060.96 L448.73,1054.56 M469.84,1060.65 L463.96,1054.56" fill="none" stroke="#636a73" stroke-width="2.1"/><path d="M2951.7999999999997,1041.8 L2961.6,1052.6000000000001 L2971.4,1041.8" fill="none" stroke="#606569" stroke-width="2.4"/></svg>
</body></html>
